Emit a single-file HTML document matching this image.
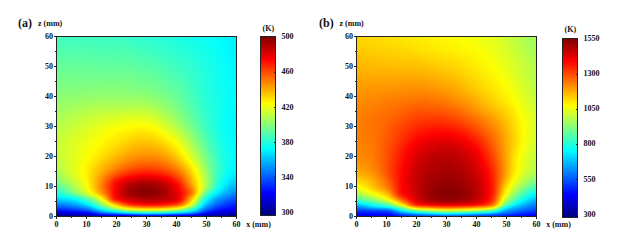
<!DOCTYPE html>
<html><head><meta charset="utf-8"><style>
html,body{margin:0;padding:0;background:#fff;}
body{width:617px;height:247px;position:relative;overflow:hidden;font-family:"Liberation Serif",serif;font-weight:bold;color:#111;}
.t{position:absolute;font-size:8px;line-height:8px;white-space:nowrap;}
.big{position:absolute;font-size:12px;line-height:12px;white-space:nowrap;}
.plot{position:absolute;top:36px;width:179px;height:179px;border:1px solid #222;}
.fld i{display:block;height:1px;width:179px;}
.tk{position:absolute;background:#222;}
.cbar{position:absolute;width:14px;border:1px solid #222;background:linear-gradient(180deg,#800000 0.0%,#ff0000 12.5%,#ff8000 25.0%,#ffff00 37.5%,#80ff80 50.0%,#00ffff 62.5%,#0080ff 75.0%,#0000ff 87.5%,#000080 100.0%);}
</style></head><body>
<div class="big" style="left:18px;top:17px">(a)</div>
<div class="t" style="left:38px;top:20px">z (mm)</div>
<div class="big" style="left:319px;top:17px">(b)</div>
<div class="t" style="left:339.5px;top:20px">z (mm)</div>

<div class="plot fld" style="left:56px">
<i style="background:linear-gradient(90deg,#42ffbd 0.5px,#3dffc2 60.5px,#29ffd6 103.5px,#06fff9 155.5px,#00faff 166.5px,#00efff 178.5px)"></i>
<i style="background:linear-gradient(90deg,#43ffbc 0.5px,#3dffc2 61.5px,#29ffd6 103.5px,#07fff8 155.5px,#00f9ff 167.5px,#00efff 178.5px)"></i>
<i style="background:linear-gradient(90deg,#44ffbb 0.5px,#3effc1 61.5px,#2affd5 103.5px,#07fff8 155.5px,#00fbff 166.5px,#00efff 178.5px)"></i>
<i style="background:linear-gradient(90deg,#44ffbb 0.5px,#3fffc0 62.5px,#2bffd4 103.5px,#07fff8 155.5px,#00fbff 166.5px,#00f0ff 178.5px)"></i>
<i style="background:linear-gradient(90deg,#45ffba 0.5px,#40ffbf 62.5px,#2cffd3 103.5px,#08fff7 155.5px,#00faff 167.5px,#00f0ff 178.5px)"></i>
<i style="background:linear-gradient(90deg,#47ffb8 0.5px,#41ffbe 63.5px,#2dffd2 103.5px,#08fff7 155.5px,#00fbff 167.5px,#00f0ff 178.5px)"></i>
<i style="background:linear-gradient(90deg,#48ffb7 0.5px,#42ffbd 63.5px,#2fffd0 102.5px,#09fff6 155.5px,#00fbff 167.5px,#00f0ff 178.5px)"></i>
<i style="background:linear-gradient(90deg,#49ffb6 0.5px,#43ffbc 64.5px,#30ffcf 102.5px,#09fff6 155.5px,#00fbff 167.5px,#00f1ff 178.5px)"></i>
<i style="background:linear-gradient(90deg,#4affb5 0.5px,#44ffbb 65.5px,#31ffce 102.5px,#0afff5 155.5px,#00fbff 168.5px,#00f1ff 178.5px)"></i>
<i style="background:linear-gradient(90deg,#4bffb4 0.5px,#46ffb9 65.5px,#33ffcc 102.5px,#0afff5 155.5px,#00fbff 168.5px,#00f1ff 178.5px)"></i>
<i style="background:linear-gradient(90deg,#4dffb2 0.5px,#47ffb8 66.5px,#34ffcb 102.5px,#0bfff4 155.5px,#00fcff 168.5px,#00f1ff 178.5px)"></i>
<i style="background:linear-gradient(90deg,#4effb1 0.5px,#48ffb7 66.5px,#35ffca 102.5px,#0cfff3 154.5px,#00fcff 168.5px,#00f2ff 178.5px)"></i>
<i style="background:linear-gradient(90deg,#4fffb0 0.5px,#49ffb6 67.5px,#37ffc8 102.5px,#0dfff2 154.5px,#00fbff 169.5px,#00f2ff 178.5px)"></i>
<i style="background:linear-gradient(90deg,#51ffae 0.5px,#4bffb4 67.5px,#39ffc6 101.5px,#0ffff0 152.5px,#00fcff 169.5px,#00f2ff 178.5px)"></i>
<i style="background:linear-gradient(90deg,#52ffad 0.5px,#4cffb3 68.5px,#3affc5 101.5px,#11ffee 151.5px,#00fcff 169.5px,#00f3ff 178.5px)"></i>
<i style="background:linear-gradient(90deg,#53ffac 0.5px,#4dffb2 68.5px,#3cffc3 101.5px,#13ffec 149.5px,#00fdff 169.5px,#00f3ff 178.5px)"></i>
<i style="background:linear-gradient(90deg,#55ffaa 0.5px,#4fffb0 69.5px,#3dffc2 101.5px,#16ffe9 147.5px,#00fcff 170.5px,#00f3ff 178.5px)"></i>
<i style="background:linear-gradient(90deg,#56ffa9 0.5px,#50ffaf 69.5px,#3effc1 101.5px,#18ffe7 145.5px,#00fcff 170.5px,#00f3ff 178.5px)"></i>
<i style="background:linear-gradient(90deg,#57ffa8 0.5px,#52ffad 69.5px,#40ffbf 101.5px,#1bffe4 143.5px,#00fcff 170.5px,#00f4ff 178.5px)"></i>
<i style="background:linear-gradient(90deg,#59ffa6 0.5px,#53ffac 70.5px,#41ffbe 101.5px,#1dffe2 142.5px,#00fdff 170.5px,#00f4ff 178.5px)"></i>
<i style="background:linear-gradient(90deg,#5affa5 0.5px,#54ffab 70.5px,#43ffbc 101.5px,#20ffdf 140.5px,#00fcff 171.5px,#00f4ff 178.5px)"></i>
<i style="background:linear-gradient(90deg,#5bffa4 0.5px,#56ffa9 70.5px,#45ffba 100.5px,#23ffdc 138.5px,#00fcff 171.5px,#00f4ff 178.5px)"></i>
<i style="background:linear-gradient(90deg,#5dffa2 0.5px,#58ffa7 70.5px,#47ffb8 100.5px,#25ffda 137.5px,#00fdff 171.5px,#00f5ff 178.5px)"></i>
<i style="background:linear-gradient(90deg,#5effa1 0.5px,#59ffa6 71.5px,#48ffb7 100.5px,#27ffd8 136.5px,#00fdff 171.5px,#00f5ff 178.5px)"></i>
<i style="background:linear-gradient(90deg,#5fffa0 0.5px,#5affa5 71.5px,#4affb5 100.5px,#29ffd6 135.5px,#00fcff 172.5px,#00f5ff 178.5px)"></i>
<i style="background:linear-gradient(90deg,#61ff9e 0.5px,#5cffa3 71.5px,#4bffb4 100.5px,#2bffd4 134.5px,#00fcff 172.5px,#00f5ff 178.5px)"></i>
<i style="background:linear-gradient(90deg,#62ff9d 0.5px,#5dffa2 71.5px,#4dffb2 100.5px,#2dffd2 133.5px,#00fcff 172.5px,#00f5ff 178.5px)"></i>
<i style="background:linear-gradient(90deg,#63ff9c 0.5px,#5fffa0 71.5px,#4effb1 100.5px,#2fffd0 132.5px,#00fdff 172.5px,#00f6ff 178.5px)"></i>
<i style="background:linear-gradient(90deg,#65ff9a 0.5px,#60ff9f 71.5px,#50ffaf 99.5px,#31ffce 131.5px,#00fdff 172.5px,#00f6ff 178.5px)"></i>
<i style="background:linear-gradient(90deg,#66ff99 0.5px,#62ff9d 71.5px,#52ffad 99.5px,#32ffcd 131.5px,#00fdff 172.5px,#00f6ff 178.5px)"></i>
<i style="background:linear-gradient(90deg,#67ff98 0.5px,#63ff9c 72.5px,#53ffac 100.5px,#34ffcb 130.5px,#00fcff 173.5px,#00f6ff 178.5px)"></i>
<i style="background:linear-gradient(90deg,#68ff97 0.5px,#65ff9a 72.5px,#55ffaa 99.5px,#37ffc8 129.5px,#00feff 172.5px,#00f7ff 178.5px)"></i>
<i style="background:linear-gradient(90deg,#6aff95 0.5px,#66ff99 72.5px,#57ffa8 99.5px,#38ffc7 129.5px,#00feff 172.5px,#00f7ff 178.5px)"></i>
<i style="background:linear-gradient(90deg,#6bff94 0.5px,#68ff97 72.5px,#58ffa7 99.5px,#3affc5 128.5px,#00feff 172.5px,#00f7ff 178.5px)"></i>
<i style="background:linear-gradient(90deg,#6cff93 0.5px,#69ff96 72.5px,#5affa5 99.5px,#3bffc4 128.5px,#01fffe 171.5px,#00f7ff 178.5px)"></i>
<i style="background:linear-gradient(90deg,#6dff92 0.5px,#6bff94 72.5px,#5bffa4 99.5px,#3dffc2 127.5px,#10ffef 160.5px,#00fcff 174.5px,#00f7ff 178.5px)"></i>
<i style="background:linear-gradient(90deg,#6fff90 0.5px,#6cff93 72.5px,#5dffa2 99.5px,#3effc1 127.5px,#11ffee 159.5px,#00fcff 174.5px,#00f8ff 178.5px)"></i>
<i style="background:linear-gradient(90deg,#70ff8f 0.5px,#6eff91 73.5px,#5effa1 99.5px,#3fffc0 127.5px,#12ffed 158.5px,#00fcff 174.5px,#00f8ff 178.5px)"></i>
<i style="background:linear-gradient(90deg,#71ff8e 0.5px,#6fff90 73.5px,#60ff9f 99.5px,#42ffbd 126.5px,#15ffea 156.5px,#00fcff 174.5px,#00f8ff 178.5px)"></i>
<i style="background:linear-gradient(90deg,#72ff8d 0.5px,#71ff8e 73.5px,#61ff9e 99.5px,#43ffbc 126.5px,#15ffea 156.5px,#00fdff 174.5px,#00f8ff 178.5px)"></i>
<i style="background:linear-gradient(90deg,#73ff8c 0.5px,#72ff8d 73.5px,#63ff9c 99.5px,#46ffb9 125.5px,#17ffe8 155.5px,#00fcff 175.5px,#00f8ff 178.5px)"></i>
<i style="background:linear-gradient(90deg,#75ff8a 0.5px,#74ff8b 73.5px,#64ff9b 99.5px,#47ffb8 125.5px,#18ffe7 154.5px,#00fcff 175.5px,#00f9ff 178.5px)"></i>
<i style="background:linear-gradient(90deg,#76ff89 0.5px,#75ff8a 73.5px,#66ff99 99.5px,#48ffb7 125.5px,#18ffe7 154.5px,#00fcff 175.5px,#00f9ff 178.5px)"></i>
<i style="background:linear-gradient(90deg,#77ff88 0.5px,#77ff88 72.5px,#68ff97 98.5px,#4affb5 124.5px,#1affe5 153.5px,#00fcff 175.5px,#00f9ff 178.5px)"></i>
<i style="background:linear-gradient(90deg,#78ff87 0.5px,#79ff86 71.5px,#6aff95 98.5px,#4cffb3 124.5px,#1bffe4 152.5px,#00fcff 175.5px,#00f9ff 178.5px)"></i>
<i style="background:linear-gradient(90deg,#79ff86 0.5px,#7bff84 70.5px,#6dff92 97.5px,#4dffb2 124.5px,#1cffe3 152.5px,#00fdff 175.5px,#00f9ff 178.5px)"></i>
<i style="background:linear-gradient(90deg,#7bff84 0.5px,#7cff83 69.5px,#6eff91 97.5px,#50ffaf 123.5px,#1dffe2 151.5px,#00fdff 175.5px,#00faff 178.5px)"></i>
<i style="background:linear-gradient(90deg,#7cff83 0.5px,#7eff81 68.5px,#71ff8e 96.5px,#51ffae 123.5px,#1effe1 151.5px,#00fdff 175.5px,#00faff 178.5px)"></i>
<i style="background:linear-gradient(90deg,#7dff82 0.5px,#80ff7f 66.5px,#74ff8b 95.5px,#54ffab 122.5px,#1fffe0 150.5px,#00fdff 175.5px,#00faff 178.5px)"></i>
<i style="background:linear-gradient(90deg,#7eff81 0.5px,#82ff7d 65.5px,#77ff88 94.5px,#55ffaa 122.5px,#20ffdf 150.5px,#00fcff 176.5px,#00faff 178.5px)"></i>
<i style="background:linear-gradient(90deg,#80ff7f 0.5px,#84ff7b 63.5px,#79ff86 93.5px,#58ffa7 121.5px,#20ffdf 150.5px,#00fcff 176.5px,#00faff 178.5px)"></i>
<i style="background:linear-gradient(90deg,#81ff7e 0.5px,#86ff79 61.5px,#7cff83 92.5px,#5bffa4 120.5px,#22ffdd 149.5px,#00fcff 176.5px,#00faff 178.5px)"></i>
<i style="background:linear-gradient(90deg,#82ff7d 0.5px,#88ff77 58.5px,#7fff80 91.5px,#5dffa2 120.5px,#22ffdd 149.5px,#00fcff 176.5px,#00faff 178.5px)"></i>
<i style="background:linear-gradient(90deg,#83ff7c 0.5px,#8aff75 56.5px,#81ff7e 90.5px,#60ff9f 119.5px,#23ffdc 149.5px,#00fcff 176.5px,#00faff 178.5px)"></i>
<i style="background:linear-gradient(90deg,#85ff7a 0.5px,#8bff74 54.5px,#84ff7b 89.5px,#63ff9c 118.5px,#23ffdc 149.5px,#00fcff 176.5px,#00faff 178.5px)"></i>
<i style="background:linear-gradient(90deg,#86ff79 0.5px,#8dff72 52.5px,#86ff79 89.5px,#65ff9a 118.5px,#23ffdc 149.5px,#00fcff 176.5px,#00fbff 178.5px)"></i>
<i style="background:linear-gradient(90deg,#87ff78 0.5px,#8fff70 51.5px,#89ff76 88.5px,#6aff95 116.5px,#24ffdb 149.5px,#00fdff 176.5px,#00fbff 178.5px)"></i>
<i style="background:linear-gradient(90deg,#89ff76 0.5px,#91ff6e 49.5px,#8cff73 88.5px,#6cff93 116.5px,#24ffdb 149.5px,#00fdff 176.5px,#00fbff 178.5px)"></i>
<i style="background:linear-gradient(90deg,#8aff75 0.5px,#94ff6b 48.5px,#8fff70 87.5px,#71ff8e 114.5px,#25ffda 149.5px,#00fdff 176.5px,#00fbff 178.5px)"></i>
<i style="background:linear-gradient(90deg,#8bff74 0.5px,#96ff69 47.5px,#91ff6e 87.5px,#74ff8b 113.5px,#49ffb6 132.5px,#1fffe0 153.5px,#00fdff 176.5px,#00fbff 178.5px)"></i>
<i style="background:linear-gradient(90deg,#8dff72 0.5px,#98ff67 46.5px,#94ff6b 87.5px,#78ff87 112.5px,#52ffad 129.5px,#24ffdb 150.5px,#00fdff 176.5px,#00fbff 178.5px)"></i>
<i style="background:linear-gradient(90deg,#8eff71 0.5px,#9aff65 46.5px,#97ff68 87.5px,#7cff83 111.5px,#56ffa9 128.5px,#26ffd9 149.5px,#00feff 175.5px,#00fbff 178.5px)"></i>
<i style="background:linear-gradient(90deg,#8fff70 0.5px,#9dff62 45.5px,#9bff64 86.5px,#81ff7e 109.5px,#5dffa2 126.5px,#2affd5 147.5px,#00feff 175.5px,#00fbff 178.5px)"></i>
<i style="background:linear-gradient(90deg,#91ff6e 0.5px,#9fff60 44.5px,#9eff61 86.5px,#85ff7a 108.5px,#61ff9e 125.5px,#2bffd4 147.5px,#00fdff 175.5px,#00faff 178.5px)"></i>
<i style="background:linear-gradient(90deg,#92ff6d 0.5px,#a2ff5d 44.5px,#a1ff5e 86.5px,#89ff76 107.5px,#66ff99 124.5px,#2dffd2 146.5px,#00fdff 175.5px,#00faff 178.5px)"></i>
<i style="background:linear-gradient(90deg,#94ff6b 0.5px,#a4ff5b 43.5px,#a5ff5a 85.5px,#91ff6e 104.5px,#6dff92 122.5px,#2effd1 146.5px,#00feff 174.5px,#00faff 178.5px)"></i>
<i style="background:linear-gradient(90deg,#95ff6a 0.5px,#a7ff58 43.5px,#a8ff57 85.5px,#95ff6a 103.5px,#6fff90 122.5px,#2effd1 146.5px,#00feff 174.5px,#00faff 178.5px)"></i>
<i style="background:linear-gradient(90deg,#97ff68 0.5px,#aaff55 43.5px,#acff53 85.5px,#98ff67 103.5px,#70ff8f 122.5px,#2fffd0 146.5px,#00feff 174.5px,#00faff 178.5px)"></i>
<i style="background:linear-gradient(90deg,#98ff67 0.5px,#acff53 42.5px,#b0ff4f 84.5px,#9eff61 101.5px,#75ff8a 121.5px,#32ffcd 145.5px,#00ffff 173.5px,#00faff 178.5px)"></i>
<i style="background:linear-gradient(90deg,#9aff65 0.5px,#afff50 42.5px,#b4ff4b 84.5px,#a3ff5c 100.5px,#77ff88 121.5px,#33ffcc 145.5px,#00ffff 173.5px,#00faff 178.5px)"></i>
<i style="background:linear-gradient(90deg,#9bff64 0.5px,#b2ff4d 42.5px,#b8ff47 83.5px,#aaff55 98.5px,#7cff83 120.5px,#34ffcb 145.5px,#01fffe 172.5px,#00faff 178.5px)"></i>
<i style="background:linear-gradient(90deg,#9dff62 0.5px,#b5ff4a 42.5px,#bcff43 83.5px,#aeff51 98.5px,#7eff81 120.5px,#34ffcb 145.5px,#03fffc 171.5px,#00faff 178.5px)"></i>
<i style="background:linear-gradient(90deg,#9eff61 0.5px,#b8ff47 42.5px,#c0ff3f 82.5px,#b3ff4c 97.5px,#83ff7c 119.5px,#35ffca 145.5px,#04fffb 170.5px,#00faff 178.5px)"></i>
<i style="background:linear-gradient(90deg,#a0ff5f 0.5px,#bbff44 42.5px,#c4ff3b 82.5px,#b9ff46 96.5px,#88ff77 118.5px,#36ffc9 145.5px,#05fffa 169.5px,#00faff 178.5px)"></i>
<i style="background:linear-gradient(90deg,#a1ff5e 0.5px,#beff41 42.5px,#c8ff37 81.5px,#beff41 95.5px,#8eff71 117.5px,#34ffcb 146.5px,#05fffa 169.5px,#00faff 178.5px)"></i>
<i style="background:linear-gradient(90deg,#a3ff5c 0.5px,#c1ff3e 42.5px,#cdff32 81.5px,#c3ff3c 95.5px,#90ff6f 117.5px,#35ffca 146.5px,#05fffa 169.5px,#00f9ff 178.5px)"></i>
<i style="background:linear-gradient(90deg,#a5ff5a 0.5px,#c4ff3b 42.5px,#d1ff2e 80.5px,#c8ff37 94.5px,#99ff66 115.5px,#36ffc9 146.5px,#06fff9 168.5px,#00fbff 176.5px,#00f9ff 178.5px)"></i>
<i style="background:linear-gradient(90deg,#a6ff59 0.5px,#c8ff37 42.5px,#d5ff2a 80.5px,#ccff33 94.5px,#9bff64 115.5px,#37ffc8 146.5px,#06fff9 168.5px,#00fbff 176.5px,#00f9ff 178.5px)"></i>
<i style="background:linear-gradient(90deg,#a8ff57 0.5px,#cbff34 43.5px,#d9ff26 80.5px,#d1ff2e 94.5px,#9eff61 115.5px,#38ffc7 146.5px,#08fff7 167.5px,#00fcff 175.5px,#00f9ff 178.5px)"></i>
<i style="background:linear-gradient(90deg,#a9ff56 0.5px,#ceff31 43.5px,#ddff22 79.5px,#d6ff29 93.5px,#aaff55 112.5px,#36ffc9 147.5px,#08fff7 167.5px,#00fcff 175.5px,#00f9ff 178.5px)"></i>
<i style="background:linear-gradient(90deg,#abff54 0.5px,#d2ff2d 44.5px,#e1ff1e 79.5px,#dbff24 93.5px,#b0ff4f 111.5px,#34ffcb 148.5px,#07fff8 167.5px,#00fbff 175.5px,#00f9ff 178.5px)"></i>
<i style="background:linear-gradient(90deg,#acff53 0.5px,#d5ff2a 45.5px,#e6ff19 79.5px,#dfff20 93.5px,#b3ff4c 111.5px,#35ffca 148.5px,#07fff8 167.5px,#00fbff 175.5px,#00f9ff 178.5px)"></i>
<i style="background:linear-gradient(90deg,#adff52 0.5px,#d9ff26 46.5px,#eaff15 80.5px,#e3ff1c 93.5px,#baff45 110.5px,#73ff8c 130.5px,#2affd5 152.5px,#04fffb 169.5px,#00f9ff 178.5px)"></i>
<i style="background:linear-gradient(90deg,#afff50 0.5px,#dcff23 47.5px,#eeff11 80.5px,#e7ff18 93.5px,#bdff42 110.5px,#76ff89 130.5px,#2bffd4 152.5px,#04fffb 169.5px,#00f9ff 178.5px)"></i>
<i style="background:linear-gradient(90deg,#b0ff4f 0.5px,#e1ff1e 49.5px,#f2ff0d 81.5px,#ebff14 93.5px,#c4ff3b 109.5px,#80ff7f 128.5px,#32ffcd 150.5px,#07fff8 167.5px,#00fbff 175.5px,#00f9ff 178.5px)"></i>
<i style="background:linear-gradient(90deg,#b2ff4d 0.5px,#e6ff19 52.5px,#f6ff09 83.5px,#ecff13 95.5px,#b8ff47 114.5px,#39ffc6 148.5px,#0bfff4 165.5px,#00fcff 174.5px,#00f9ff 178.5px)"></i>
<i style="background:linear-gradient(90deg,#b3ff4c 0.5px,#ebff14 54.5px,#faff05 84.5px,#f0ff0f 95.5px,#bfff40 113.5px,#37ffc8 149.5px,#09fff6 166.5px,#00fcff 174.5px,#00f8ff 178.5px)"></i>
<i style="background:linear-gradient(90deg,#b4ff4b 0.5px,#efff10 56.5px,#feff01 85.5px,#f2ff0d 96.5px,#bbff44 115.5px,#38ffc7 149.5px,#0bfff4 165.5px,#00fcff 174.5px,#00f8ff 178.5px)"></i>
<i style="background:linear-gradient(90deg,#b6ff49 0.5px,#f5ff0a 59.5px,#fffd00 81.5px,#fbff04 93.5px,#d6ff29 108.5px,#94ff6b 126.5px,#39ffc6 149.5px,#0bfff4 165.5px,#00fdff 173.5px,#00f8ff 178.5px)"></i>
<i style="background:linear-gradient(90deg,#b7ff48 0.5px,#f9ff06 61.5px,#fffb00 76.5px,#fffc00 91.5px,#f6ff09 98.5px,#bcff43 117.5px,#3affc5 149.5px,#0bfff4 165.5px,#00fcff 174.5px,#00f8ff 178.5px)"></i>
<i style="background:linear-gradient(90deg,#b8ff47 0.5px,#feff01 64.5px,#fff500 87.5px,#fcff03 97.5px,#c7ff38 115.5px,#37ffc8 150.5px,#0cfff3 165.5px,#00fcff 174.5px,#00f8ff 178.5px)"></i>
<i style="background:linear-gradient(90deg,#b9ff46 0.5px,#ffff00 62.5px,#fff100 86.5px,#feff01 98.5px,#c7ff38 116.5px,#38ffc7 150.5px,#0cfff3 165.5px,#00fcff 174.5px,#00f9ff 178.5px)"></i>
<i style="background:linear-gradient(90deg,#bbff44 0.5px,#fffe00 60.5px,#ffee00 85.5px,#fff800 96.5px,#faff05 101.5px,#c4ff3b 118.5px,#3affc5 150.5px,#0cfff3 165.5px,#00fcff 174.5px,#00f9ff 178.5px)"></i>
<i style="background:linear-gradient(90deg,#bcff43 0.5px,#fffe00 58.5px,#ffea00 84.5px,#fff300 95.5px,#fcff03 102.5px,#c4ff3b 119.5px,#3bffc4 150.5px,#0dfff2 165.5px,#00fcff 174.5px,#00f9ff 178.5px)"></i>
<i style="background:linear-gradient(90deg,#bdff42 0.5px,#fffc00 57.5px,#ffe700 83.5px,#ffef00 95.5px,#fdff02 103.5px,#c8ff37 119.5px,#38ffc7 151.5px,#0dfff2 165.5px,#00fdff 174.5px,#00f9ff 178.5px)"></i>
<i style="background:linear-gradient(90deg,#beff41 0.5px,#fffd00 55.5px,#ffe400 82.5px,#ffe900 94.5px,#fcff03 105.5px,#c8ff37 120.5px,#3affc5 151.5px,#0efff1 165.5px,#00fdff 174.5px,#00f9ff 178.5px)"></i>
<i style="background:linear-gradient(90deg,#bfff40 0.5px,#fffd00 53.5px,#ffe100 81.5px,#ffe400 93.5px,#fdff02 106.5px,#c8ff37 121.5px,#3bffc4 151.5px,#0efff1 165.5px,#00fdff 174.5px,#00f9ff 178.5px)"></i>
<i style="background:linear-gradient(90deg,#c0ff3f 0.5px,#fffc00 52.5px,#ffde00 81.5px,#ffe100 93.5px,#fcff03 108.5px,#c8ff37 122.5px,#3cffc3 151.5px,#0ffff0 165.5px,#00fdff 174.5px,#00f9ff 178.5px)"></i>
<i style="background:linear-gradient(90deg,#c1ff3e 0.5px,#fffd00 50.5px,#ffda00 81.5px,#ffdd00 93.5px,#fffb00 107.5px,#f4ff0b 112.5px,#baff45 126.5px,#42ffbd 150.5px,#12ffed 164.5px,#00fdff 174.5px,#00f9ff 178.5px)"></i>
<i style="background:linear-gradient(90deg,#c2ff3d 0.5px,#fffc00 49.5px,#ffd800 80.5px,#ffd900 93.5px,#fff600 107.5px,#fcff03 111.5px,#c8ff37 124.5px,#43ffbc 150.5px,#15ffea 163.5px,#00feff 174.5px,#00f9ff 178.5px)"></i>
<i style="background:linear-gradient(90deg,#c3ff3c 0.5px,#fffd00 47.5px,#ffd400 80.5px,#ffd600 93.5px,#fff200 107.5px,#fdff02 112.5px,#c7ff38 125.5px,#45ffba 150.5px,#16ffe9 163.5px,#00feff 174.5px,#00faff 178.5px)"></i>
<i style="background:linear-gradient(90deg,#c3ff3c 0.5px,#fdff02 43.5px,#ffd100 80.5px,#ffd200 93.5px,#ffed00 107.5px,#fbff04 114.5px,#c1ff3e 127.5px,#47ffb8 150.5px,#17ffe8 163.5px,#00feff 174.5px,#00faff 178.5px)"></i>
<i style="background:linear-gradient(90deg,#c4ff3b 0.5px,#faff05 40.5px,#fff600 49.5px,#ffce00 80.5px,#ffce00 93.5px,#ffe900 107.5px,#fcff03 115.5px,#c0ff3f 128.5px,#48ffb7 150.5px,#18ffe7 163.5px,#00ffff 174.5px,#00faff 178.5px)"></i>
<i style="background:linear-gradient(90deg,#c4ff3b 0.5px,#f8ff07 38.5px,#fffb00 45.5px,#ffcb00 79.5px,#ffca00 92.5px,#ffdf00 105.5px,#fdff02 116.5px,#beff41 129.5px,#4affb5 150.5px,#19ffe6 163.5px,#00ffff 174.5px,#00faff 178.5px)"></i>
<i style="background:linear-gradient(90deg,#c5ff3a 0.5px,#f8ff07 37.5px,#fffa00 44.5px,#ffc800 79.5px,#ffc600 92.5px,#ffdb00 105.5px,#fdff02 117.5px,#bdff42 130.5px,#4cffb3 150.5px,#19ffe6 163.5px,#00ffff 174.5px,#00faff 178.5px)"></i>
<i style="background:linear-gradient(90deg,#c5ff3a 0.5px,#f6ff09 35.5px,#fffa00 43.5px,#ffc500 79.5px,#ffc300 93.5px,#ffd900 106.5px,#fdff02 118.5px,#bbff44 131.5px,#4effb1 150.5px,#1affe5 163.5px,#00ffff 174.5px,#00faff 178.5px)"></i>
<i style="background:linear-gradient(90deg,#c6ff39 0.5px,#f6ff09 34.5px,#fffa00 42.5px,#ffc200 78.5px,#ffbf00 92.5px,#ffd200 105.5px,#fff800 117.5px,#f9ff06 120.5px,#a6ff59 135.5px,#4bffb4 151.5px,#18ffe7 164.5px,#00feff 175.5px,#00faff 178.5px)"></i>
<i style="background:linear-gradient(90deg,#c6ff39 0.5px,#f5ff0a 33.5px,#fffb00 41.5px,#ffbf00 78.5px,#ffbb00 92.5px,#ffce00 105.5px,#fff400 117.5px,#fdff02 120.5px,#b0ff4f 134.5px,#4dffb2 151.5px,#19ffe6 164.5px,#00feff 175.5px,#00fbff 178.5px)"></i>
<i style="background:linear-gradient(90deg,#c6ff39 0.5px,#f4ff0b 32.5px,#fffb00 40.5px,#ffbd00 77.5px,#ffb700 91.5px,#ffc800 104.5px,#ffec00 116.5px,#fdff02 121.5px,#a0ff5f 137.5px,#4affb5 152.5px,#1affe5 164.5px,#00ffff 175.5px,#00fbff 178.5px)"></i>
<i style="background:linear-gradient(90deg,#c6ff39 0.5px,#f4ff0b 31.5px,#fffb00 39.5px,#ffb900 77.5px,#ffb300 91.5px,#ffc300 104.5px,#ffe700 116.5px,#fcff03 122.5px,#90ff6f 140.5px,#42ffbd 154.5px,#14ffeb 166.5px,#00fdff 176.5px,#00fbff 178.5px)"></i>
<i style="background:linear-gradient(90deg,#c7ff38 0.5px,#f3ff0c 30.5px,#fffc00 38.5px,#ffb700 76.5px,#ffaf00 91.5px,#ffbf00 104.5px,#ffe300 116.5px,#fffe00 122.5px,#a6ff59 137.5px,#4dffb2 152.5px,#1bffe4 164.5px,#00ffff 175.5px,#00fbff 178.5px)"></i>
<i style="background:linear-gradient(90deg,#c7ff38 0.5px,#f2ff0d 29.5px,#fffc00 37.5px,#ffb400 76.5px,#ffab00 91.5px,#ffbb00 104.5px,#ffdb00 115.5px,#ffff00 123.5px,#4fffb0 152.5px,#1cffe3 164.5px,#00ffff 175.5px,#00fbff 178.5px)"></i>
<i style="background:linear-gradient(90deg,#c7ff38 0.5px,#f1ff0e 28.5px,#fffd00 36.5px,#ffb100 75.5px,#ffa700 90.5px,#ffb400 103.5px,#ffd200 114.5px,#fdff02 124.5px,#51ffae 152.5px,#1dffe2 164.5px,#00ffff 175.5px,#00fbff 178.5px)"></i>
<i style="background:linear-gradient(90deg,#c7ff38 0.5px,#f1ff0e 27.5px,#fffc00 36.5px,#ffaf00 74.5px,#ffa300 89.5px,#ffae00 102.5px,#ffca00 113.5px,#fffd00 124.5px,#b6ff49 136.5px,#53ffac 152.5px,#1effe1 164.5px,#00ffff 175.5px,#00fbff 178.5px)"></i>
<i style="background:linear-gradient(90deg,#c7ff38 0.5px,#f0ff0f 26.5px,#fffc00 35.5px,#ffad00 73.5px,#ff9f00 89.5px,#ffaa00 102.5px,#ffc600 113.5px,#fff900 124.5px,#faff05 126.5px,#55ffaa 152.5px,#1effe1 164.5px,#01fffe 175.5px,#00fbff 178.5px)"></i>
<i style="background:linear-gradient(90deg,#c6ff39 0.5px,#edff12 24.5px,#fffd00 34.5px,#ffa900 73.5px,#ff9b00 88.5px,#ffa400 101.5px,#ffbe00 112.5px,#ffef00 123.5px,#feff01 126.5px,#57ffa8 152.5px,#1fffe0 164.5px,#01fffe 175.5px,#00fbff 178.5px)"></i>
<i style="background:linear-gradient(90deg,#c6ff39 0.5px,#ecff13 23.5px,#fffc00 34.5px,#ffa700 72.5px,#ff9700 88.5px,#ff9f00 101.5px,#ffb900 112.5px,#ffeb00 123.5px,#fcff03 127.5px,#59ffa6 152.5px,#20ffdf 164.5px,#01fffe 175.5px,#00fbff 178.5px)"></i>
<i style="background:linear-gradient(90deg,#c6ff39 0.5px,#eaff15 22.5px,#fffc00 33.5px,#ffa400 71.5px,#ff9300 87.5px,#ff9900 100.5px,#ffb100 111.5px,#ffe100 122.5px,#fffe00 127.5px,#55ffaa 153.5px,#20ffdf 164.5px,#01fffe 175.5px,#00fbff 178.5px)"></i>
<i style="background:linear-gradient(90deg,#c5ff3a 0.5px,#e9ff16 21.5px,#fffd00 32.5px,#ffa000 71.5px,#ff8e00 87.5px,#ff9400 100.5px,#ffac00 111.5px,#ffdc00 122.5px,#feff01 128.5px,#57ffa8 153.5px,#21ffde 164.5px,#01fffe 175.5px,#00fbff 178.5px)"></i>
<i style="background:linear-gradient(90deg,#c5ff3a 0.5px,#e8ff17 20.5px,#fffc00 32.5px,#ff9e00 70.5px,#ff8a00 86.5px,#ff8e00 99.5px,#ffa400 110.5px,#ffcd00 120.5px,#fcff03 129.5px,#59ffa6 153.5px,#22ffdd 164.5px,#01fffe 175.5px,#00fbff 178.5px)"></i>
<i style="background:linear-gradient(90deg,#c4ff3b 0.5px,#e8ff17 20.5px,#fffd00 31.5px,#ff9b00 69.5px,#ff8500 85.5px,#ff8800 98.5px,#ff9c00 109.5px,#ffc300 119.5px,#fffd00 129.5px,#55ffaa 154.5px,#1effe1 165.5px,#01fffe 175.5px,#00fbff 178.5px)"></i>
<i style="background:linear-gradient(90deg,#c3ff3c 0.5px,#e6ff19 19.5px,#fffe00 30.5px,#ff9700 69.5px,#ff8000 85.5px,#ff8300 98.5px,#ff9700 109.5px,#ffbe00 119.5px,#ffff00 130.5px,#5dffa2 153.5px,#23ffdc 164.5px,#03fffc 174.5px,#00fbff 178.5px)"></i>
<i style="background:linear-gradient(90deg,#c3ff3c 0.5px,#e7ff18 19.5px,#fffc00 30.5px,#ff9400 68.5px,#ff7b00 85.5px,#ff7d00 98.5px,#ff9100 109.5px,#ffbd00 120.5px,#fdff02 131.5px,#5fffa0 153.5px,#23ffdc 164.5px,#03fffc 174.5px,#00fbff 178.5px)"></i>
<i style="background:linear-gradient(90deg,#c1ff3e 0.5px,#e7ff18 19.5px,#fffd00 29.5px,#ff8f00 68.5px,#ff7600 84.5px,#ff7700 97.5px,#ff8900 108.5px,#ffae00 118.5px,#ffee00 129.5px,#fbff04 132.5px,#60ff9f 153.5px,#28ffd7 163.5px,#05fffa 173.5px,#00faff 178.5px)"></i>
<i style="background:linear-gradient(90deg,#c0ff3f 0.5px,#e5ff1a 18.5px,#fffc00 29.5px,#ff8c00 67.5px,#ff7100 84.5px,#ff7100 97.5px,#ff8300 108.5px,#ffa800 118.5px,#ffe200 128.5px,#fffe00 132.5px,#5cffa3 154.5px,#24ffdb 164.5px,#02fffd 174.5px,#00faff 178.5px)"></i>
<i style="background:linear-gradient(90deg,#bfff40 0.5px,#e6ff19 18.5px,#fffd00 28.5px,#ff8700 67.5px,#ff6c00 83.5px,#ff6a00 96.5px,#ff7d00 108.5px,#ffa700 119.5px,#ffe300 129.5px,#feff01 133.5px,#64ff9b 153.5px,#29ffd6 163.5px,#05fffa 173.5px,#00faff 178.5px)"></i>
<i style="background:linear-gradient(90deg,#bdff42 0.5px,#e6ff19 18.5px,#fffc00 28.5px,#ffa800 54.5px,#ff7800 71.5px,#ff6300 86.5px,#ff6700 99.5px,#ff7d00 110.5px,#ffab00 121.5px,#fff300 132.5px,#fcff03 134.5px,#66ff99 153.5px,#29ffd6 163.5px,#04fffb 173.5px,#00f9ff 178.5px)"></i>
<i style="background:linear-gradient(90deg,#bbff44 0.5px,#e6ff19 18.5px,#fffe00 27.5px,#ffaf00 51.5px,#ff7900 68.5px,#ff5e00 84.5px,#ff5f00 97.5px,#ff7100 108.5px,#ff9b00 119.5px,#ffd700 129.5px,#fffc00 134.5px,#c8ff37 141.5px,#60ff9f 154.5px,#2affd5 163.5px,#04fffb 173.5px,#00f9ff 178.5px)"></i>
<i style="background:linear-gradient(90deg,#b9ff46 0.5px,#e6ff19 18.5px,#fffd00 27.5px,#ffaa00 51.5px,#ff7500 67.5px,#ff5800 83.5px,#ff5600 95.5px,#ff6800 107.5px,#ff8b00 117.5px,#ffc300 127.5px,#fffe00 135.5px,#69ff96 153.5px,#2fffd0 162.5px,#06fff9 172.5px,#00f9ff 177.5px,#00f8ff 178.5px)"></i>
<i style="background:linear-gradient(90deg,#b7ff48 0.5px,#e9ff16 19.5px,#fffc00 27.5px,#ffaa00 50.5px,#ff7200 66.5px,#ff5300 81.5px,#ff4e00 93.5px,#ff5f00 106.5px,#ff8000 116.5px,#ffb600 126.5px,#fdff02 136.5px,#72ff8d 152.5px,#2fffd0 162.5px,#06fff9 172.5px,#00fbff 176.5px,#00f7ff 178.5px)"></i>
<i style="background:linear-gradient(90deg,#b5ff4a 0.5px,#e9ff16 19.5px,#fffe00 26.5px,#ffaa00 49.5px,#ff7100 64.5px,#ff4f00 79.5px,#ff4600 91.5px,#ff5300 104.5px,#ff7100 114.5px,#ffa300 124.5px,#fff300 135.5px,#f9ff06 137.5px,#74ff8b 152.5px,#35ffca 161.5px,#08fff7 171.5px,#00fcff 175.5px,#00f6ff 178.5px)"></i>
<i style="background:linear-gradient(90deg,#b3ff4c 0.5px,#f0ff0f 21.5px,#fffe00 26.5px,#ffaa00 48.5px,#ff6e00 63.5px,#ff4b00 77.5px,#ff3e00 89.5px,#ff4900 102.5px,#ff6200 112.5px,#ff9100 122.5px,#ffd600 132.5px,#ffff00 137.5px,#7eff81 151.5px,#35ffca 161.5px,#0bfff4 170.5px,#00feff 174.5px,#00f5ff 178.5px)"></i>
<i style="background:linear-gradient(90deg,#b0ff4f 0.5px,#f7ff08 23.5px,#fffa00 27.5px,#ffa500 48.5px,#ff6700 63.5px,#ff4500 76.5px,#ff3600 89.5px,#ff4100 102.5px,#ff5b00 112.5px,#ff8a00 122.5px,#ffd000 132.5px,#fffb00 137.5px,#f1ff0e 139.5px,#80ff7f 151.5px,#36ffc9 161.5px,#0bfff4 170.5px,#00fdff 174.5px,#00f4ff 178.5px)"></i>
<i style="background:linear-gradient(90deg,#adff52 0.5px,#fffd00 26.5px,#ffab00 46.5px,#ff6700 61.5px,#ff4100 74.5px,#ff2e00 87.5px,#ff3500 99.5px,#ff4c00 110.5px,#ff7d00 121.5px,#ffc200 131.5px,#ffff00 138.5px,#82ff7d 151.5px,#36ffc9 161.5px,#0afff5 170.5px,#00fcff 174.5px,#00f3ff 178.5px)"></i>
<i style="background:linear-gradient(90deg,#abff54 0.5px,#fffd00 26.5px,#ffab00 45.5px,#ff5f00 61.5px,#ff3800 74.5px,#ff2600 87.5px,#ff2c00 99.5px,#ff4400 110.5px,#ff7000 120.5px,#ffad00 129.5px,#fffb00 138.5px,#e5ff1a 141.5px,#7bff84 152.5px,#36ffc9 161.5px,#09fff6 170.5px,#00faff 174.5px,#00f2ff 178.5px)"></i>
<i style="background:linear-gradient(90deg,#a8ff57 0.5px,#fffd00 26.5px,#ffb100 43.5px,#ff5b00 60.5px,#ff3100 73.5px,#ff1c00 87.5px,#ff2300 99.5px,#ff3c00 110.5px,#ff6900 120.5px,#ffa700 129.5px,#fdff02 139.5px,#7dff82 152.5px,#35ffca 161.5px,#07fff8 170.5px,#00fcff 173.5px,#00f0ff 178.5px)"></i>
<i style="background:linear-gradient(90deg,#a4ff5b 0.5px,#fffe00 26.5px,#ffb800 41.5px,#ff5300 60.5px,#ff2a00 72.5px,#ff1300 86.5px,#ff1700 97.5px,#ff2c00 108.5px,#ff5600 118.5px,#ff8900 126.5px,#ffe900 137.5px,#fffd00 139.5px,#6dff92 154.5px,#2effd1 162.5px,#02fffd 171.5px,#00eeff 178.5px)"></i>
<i style="background:linear-gradient(90deg,#a1ff5e 0.5px,#ffff00 26.5px,#ffba00 40.5px,#ff4e00 59.5px,#ff2200 71.5px,#ff0900 85.5px,#ff0b00 96.5px,#ff2200 108.5px,#ff4d00 118.5px,#ff8300 126.5px,#fff000 138.5px,#faff05 140.5px,#6eff91 154.5px,#2dffd2 162.5px,#00ffff 171.5px,#00ebff 178.5px)"></i>
<i style="background:linear-gradient(90deg,#9dff62 0.5px,#feff01 26.5px,#ffc900 37.5px,#ff4400 59.5px,#ff1700 71.5px,#fe0000 83.5px,#fc0000 93.5px,#ff0700 101.5px,#ff1e00 110.5px,#ff5000 120.5px,#ff8e00 128.5px,#fdff02 140.5px,#53ffac 157.5px,#1fffe0 164.5px,#01fffe 170.5px,#00e8ff 178.5px)"></i>
<i style="background:linear-gradient(90deg,#99ff66 0.5px,#fffd00 27.5px,#ffc100 38.5px,#ff3f00 58.5px,#ff1100 69.5px,#fc0000 77.5px,#ef0000 89.5px,#fa0000 101.5px,#ff0600 106.5px,#ff2b00 115.5px,#ff5d00 123.5px,#ffcb00 135.5px,#fffe00 140.5px,#41ffbe 159.5px,#17ffe8 165.5px,#00fdff 170.5px,#00e5ff 178.5px)"></i>
<i style="background:linear-gradient(90deg,#94ff6b 0.5px,#ffff00 27.5px,#ffc600 37.5px,#ff3500 58.5px,#ff0600 69.5px,#f90000 73.5px,#e40000 86.5px,#e90000 97.5px,#ff0200 108.5px,#ff2c00 117.5px,#ff5d00 124.5px,#fffb00 140.5px,#e4ff1b 143.5px,#40ffbf 159.5px,#14ffeb 165.5px,#00feff 169.5px,#00e2ff 177.5px,#00e1ff 178.5px)"></i>
<i style="background:linear-gradient(90deg,#90ff6f 0.5px,#fdff02 27.5px,#ffd200 35.5px,#ff2c00 58.5px,#ff0200 67.5px,#df0000 80.5px,#d80000 91.5px,#ea0000 104.5px,#ff0300 111.5px,#ff3600 120.5px,#ff7200 127.5px,#fff800 140.5px,#fcff03 141.5px,#35ffca 160.5px,#0bfff4 166.5px,#00ffff 168.5px,#00e0ff 176.5px,#00ddff 178.5px)"></i>
<i style="background:linear-gradient(90deg,#8bff74 0.5px,#fffd00 28.5px,#ffbc00 38.5px,#ff2a00 57.5px,#ff0000 65.5px,#de0000 75.5px,#cd0000 87.5px,#d40000 98.5px,#ec0000 108.5px,#ff0300 113.5px,#ff3500 121.5px,#ff8100 129.5px,#feff01 141.5px,#33ffcc 160.5px,#08fff7 166.5px,#00f7ff 169.5px,#00daff 177.5px,#00d8ff 178.5px)"></i>
<i style="background:linear-gradient(90deg,#85ff7a 0.5px,#faff05 27.5px,#fffa00 29.5px,#ffb400 39.5px,#ff2200 57.5px,#ff0000 63.5px,#d90000 73.5px,#c30000 86.5px,#c70000 96.5px,#df0000 107.5px,#ff0000 114.5px,#ff2d00 121.5px,#ff7b00 129.5px,#fffd00 141.5px,#31ffce 160.5px,#05fffa 166.5px,#00f8ff 168.5px,#00d8ff 176.5px,#00d4ff 178.5px)"></i>
<i style="background:linear-gradient(90deg,#7fff80 0.5px,#f2ff0d 26.5px,#fffb00 29.5px,#ffb300 39.5px,#ff1b00 57.5px,#fc0000 62.5px,#d50000 71.5px,#bb0000 84.5px,#bb0000 94.5px,#d30000 106.5px,#f60000 114.5px,#ff0300 116.5px,#ff2d00 122.5px,#ff8c00 131.5px,#fffb00 141.5px,#e2ff1d 144.5px,#2effd1 160.5px,#07fff8 165.5px,#00faff 167.5px,#00d6ff 175.5px,#00d0ff 178.5px)"></i>
<i style="background:linear-gradient(90deg,#77ff88 0.5px,#eaff15 25.5px,#fffd00 29.5px,#ffb200 39.5px,#ff1500 57.5px,#ff0100 60.5px,#cf0000 70.5px,#b40000 82.5px,#b00000 92.5px,#c80000 105.5px,#e90000 113.5px,#ff0100 117.5px,#ff2f00 123.5px,#ffd500 138.5px,#fff800 141.5px,#faff05 142.5px,#2bffd4 160.5px,#04fffb 165.5px,#00f1ff 168.5px,#00cfff 176.5px,#00cbff 178.5px)"></i>
<i style="background:linear-gradient(90deg,#6fff90 0.5px,#e2ff1d 24.5px,#ffff00 29.5px,#ffb100 39.5px,#ff0f00 57.5px,#ff0100 59.5px,#cb0000 69.5px,#b00000 79.5px,#a60000 90.5px,#b60000 101.5px,#d20000 110.5px,#ff0000 118.5px,#ff2700 123.5px,#ffae00 135.5px,#fdff02 142.5px,#33ffcc 159.5px,#07fff8 164.5px,#00ffff 165.5px,#00d1ff 174.5px,#00c6ff 178.5px)"></i>
<i style="background:linear-gradient(90deg,#66ff99 0.5px,#d3ff2c 22.5px,#fdff02 29.5px,#ffcb00 36.5px,#ff4a00 50.5px,#ff0200 58.5px,#c30000 69.5px,#aa0000 78.5px,#9e0000 89.5px,#aa0000 99.5px,#c70000 109.5px,#f80000 118.5px,#fe0000 119.5px,#ff2a00 124.5px,#ffd900 139.5px,#ffff00 142.5px,#30ffcf 159.5px,#03fffc 164.5px,#00ccff 174.5px,#00c1ff 178.5px)"></i>
<i style="background:linear-gradient(90deg,#5dffa2 0.5px,#beff41 19.5px,#fffc00 30.5px,#ff9500 42.5px,#ff0600 57.5px,#f60000 59.5px,#bd0000 69.5px,#a60000 77.5px,#980000 88.5px,#a20000 98.5px,#c10000 109.5px,#f20000 118.5px,#ff0000 120.5px,#ff3900 126.5px,#ffd500 139.5px,#fffd00 142.5px,#2cffd3 159.5px,#00feff 164.5px,#00cbff 173.5px,#00bbff 178.5px)"></i>
<i style="background:linear-gradient(90deg,#55ffaa 0.5px,#aeff51 17.5px,#ffff00 30.5px,#ff9500 42.5px,#ff0400 57.5px,#e60000 61.5px,#b50000 70.5px,#9b0000 80.5px,#930000 90.5px,#a40000 101.5px,#c10000 110.5px,#f40000 119.5px,#ff0400 121.5px,#ff4a00 128.5px,#ffd200 139.5px,#fffb00 142.5px,#beff41 147.5px,#28ffd7 159.5px,#02fffd 163.5px,#00c5ff 173.5px,#00b5ff 178.5px)"></i>
<i style="background:linear-gradient(90deg,#4cffb3 0.5px,#a2ff5d 16.5px,#f5ff0a 29.5px,#fffa00 31.5px,#ff7000 46.5px,#ff0300 57.5px,#b60000 69.5px,#9f0000 76.5px,#8f0000 88.5px,#9a0000 98.5px,#b90000 109.5px,#ea0000 118.5px,#ff0000 121.5px,#ff4500 128.5px,#ffb200 137.5px,#fffb00 142.5px,#d7ff28 145.5px,#2effd1 158.5px,#05fffa 162.5px,#00f4ff 164.5px,#00bfff 173.5px,#00afff 178.5px)"></i>
<i style="background:linear-gradient(90deg,#45ffba 0.5px,#96ff69 15.5px,#f1ff0e 29.5px,#fffd00 31.5px,#ff7200 46.5px,#ff0300 57.5px,#b30000 69.5px,#9c0000 76.5px,#8c0000 88.5px,#950000 97.5px,#b20000 108.5px,#e10000 117.5px,#fc0000 121.5px,#ff2000 125.5px,#ff8500 134.5px,#ffdc00 140.5px,#fffc00 142.5px,#8bff74 150.5px,#1cffe3 159.5px,#00feff 162.5px,#00c3ff 171.5px,#00a9ff 178.5px)"></i>
<i style="background:linear-gradient(90deg,#3dffc2 0.5px,#8fff70 15.5px,#edff12 29.5px,#fdff02 31.5px,#ffb000 40.5px,#ff3f00 51.5px,#ff0300 57.5px,#b60000 68.5px,#9e0000 74.5px,#8a0000 87.5px,#910000 96.5px,#b00000 108.5px,#df0000 117.5px,#ff0200 122.5px,#ff4500 129.5px,#ff9a00 136.5px,#fffe00 142.5px,#9cff63 148.5px,#2affd5 157.5px,#01fffe 161.5px,#00c3ff 170.5px,#00a4ff 177.5px,#00a2ff 178.5px)"></i>
<i style="background:linear-gradient(90deg,#35ffca 0.5px,#82ff7d 14.5px,#e0ff1f 28.5px,#fffe00 32.5px,#ff7900 46.5px,#ff0300 57.5px,#b40000 68.5px,#9c0000 74.5px,#880000 87.5px,#8f0000 96.5px,#ae0000 108.5px,#e30000 118.5px,#ff0000 122.5px,#ff3f00 129.5px,#ff8600 135.5px,#ffc900 139.5px,#fbff04 142.5px,#9fff60 147.5px,#4effb1 153.5px,#02fffd 160.5px,#00c2ff 169.5px,#009eff 177.5px,#009bff 178.5px)"></i>
<i style="background:linear-gradient(90deg,#2dffd2 0.5px,#73ff8c 13.5px,#d2ff2d 27.5px,#faff05 32.5px,#fff200 34.5px,#ff7e00 46.5px,#ff0c00 56.5px,#ff0300 57.5px,#b30000 68.5px,#9a0000 74.5px,#860000 87.5px,#8d0000 96.5px,#ac0000 108.5px,#e10000 118.5px,#fc0000 122.5px,#ff2800 127.5px,#ff7400 134.5px,#ffa300 137.5px,#fff300 141.5px,#f6ff09 142.5px,#93ff6c 147.5px,#5affa5 151.5px,#0bfff4 158.5px,#02fffd 159.5px,#00c0ff 168.5px,#009aff 176.5px,#0094ff 178.5px)"></i>
<i style="background:linear-gradient(90deg,#24ffdb 0.5px,#69ff96 13.5px,#c2ff3d 26.5px,#fbff04 33.5px,#ffde00 37.5px,#ff7800 47.5px,#ff0c00 56.5px,#ff0200 57.5px,#b20000 68.5px,#9a0000 74.5px,#860000 87.5px,#8c0000 96.5px,#ab0000 108.5px,#df0000 118.5px,#ff0300 123.5px,#ff4300 130.5px,#ff8000 135.5px,#ffb700 138.5px,#fff800 141.5px,#efff10 142.5px,#98ff67 146.5px,#67ff98 149.5px,#14ffeb 156.5px,#01fffe 158.5px,#00c4ff 166.5px,#0096ff 175.5px,#008dff 178.5px)"></i>
<i style="background:linear-gradient(90deg,#1affe5 0.5px,#55ffaa 12.5px,#a5ff5a 24.5px,#fffd00 35.5px,#ff8d00 46.5px,#ff0e00 56.5px,#ff0400 57.5px,#d30000 63.5px,#a90000 70.5px,#930000 78.5px,#870000 89.5px,#940000 99.5px,#b00000 109.5px,#e40000 119.5px,#ff0100 123.5px,#ff4500 130.5px,#ff8500 135.5px,#ffbd00 138.5px,#fcff03 141.5px,#8bff74 146.5px,#59ffa6 149.5px,#08fff7 156.5px,#00feff 157.5px,#00c7ff 164.5px,#0091ff 174.5px,#0085ff 178.5px)"></i>
<i style="background:linear-gradient(90deg,#0ffff0 0.5px,#3fffc0 11.5px,#7bff84 21.5px,#dcff23 33.5px,#fffc00 37.5px,#ff9a00 46.5px,#ff1000 56.5px,#fb0000 58.5px,#c20000 66.5px,#a30000 73.5px,#8c0000 86.5px,#900000 95.5px,#ad0000 108.5px,#d60000 117.5px,#ff0000 123.5px,#ff3f00 129.5px,#ff8f00 135.5px,#ffc900 138.5px,#fff700 140.5px,#efff10 141.5px,#7dff82 146.5px,#4bffb4 149.5px,#05fffa 155.5px,#00f1ff 157.5px,#00bcff 164.5px,#0088ff 174.5px,#007cff 178.5px)"></i>
<i style="background:linear-gradient(90deg,#03fffc 0.5px,#27ffd8 10.5px,#5dffa2 20.5px,#b2ff4d 31.5px,#fffc00 39.5px,#ffa900 46.5px,#ff2100 55.5px,#fd0000 58.5px,#c60000 66.5px,#a90000 73.5px,#920000 86.5px,#960000 96.5px,#b20000 109.5px,#da0000 118.5px,#ff0000 123.5px,#ff4600 129.5px,#ff9d00 135.5px,#ffd900 138.5px,#fff000 139.5px,#f7ff08 140.5px,#82ff7d 145.5px,#4bffb4 148.5px,#0cfff3 153.5px,#01fffe 154.5px,#00c3ff 161.5px,#008aff 171.5px,#0073ff 178.5px)"></i>
<i style="background:linear-gradient(90deg,#00f6ff 0.5px,#03fffc 5.5px,#33ffcc 17.5px,#70ff8f 26.5px,#b5ff4a 34.5px,#f7ff08 40.5px,#fffb00 41.5px,#ffbb00 46.5px,#ff2500 55.5px,#ff0100 58.5px,#cc0000 66.5px,#af0000 74.5px,#980000 87.5px,#9f0000 98.5px,#b70000 110.5px,#de0000 119.5px,#ff0000 123.5px,#ff4000 128.5px,#ffae00 135.5px,#fcff03 139.5px,#72ff8d 145.5px,#3bffc4 148.5px,#09fff6 152.5px,#00fdff 153.5px,#00bcff 160.5px,#0088ff 169.5px,#006cff 177.5px,#006aff 178.5px)"></i>
<i style="background:linear-gradient(90deg,#00e9ff 0.5px,#01fffe 10.5px,#21ffde 18.5px,#5fffa0 27.5px,#9dff62 34.5px,#f9ff06 42.5px,#fff800 43.5px,#ffbc00 47.5px,#ff2b00 55.5px,#ff0500 58.5px,#f40000 60.5px,#cb0000 68.5px,#a90000 81.5px,#a00000 90.5px,#b10000 106.5px,#ca0000 115.5px,#e30000 120.5px,#ff0000 123.5px,#ff4800 128.5px,#ffd200 136.5px,#fffd00 138.5px,#62ff9d 145.5px,#2cffd3 148.5px,#06fff9 151.5px,#00eeff 153.5px,#00afff 160.5px,#0082ff 168.5px,#0064ff 176.5px,#0061ff 178.5px)"></i>
<i style="background:linear-gradient(90deg,#00dcff 0.5px,#00efff 10.5px,#03fffc 16.5px,#32ffcd 24.5px,#72ff8d 32.5px,#bfff40 39.5px,#ffff00 44.5px,#ffbb00 48.5px,#ff4400 54.5px,#ff1600 57.5px,#ff0300 59.5px,#d00000 69.5px,#ac0000 84.5px,#aa0000 94.5px,#bb0000 109.5px,#d80000 118.5px,#eb0000 121.5px,#ff0200 123.5px,#ff3e00 127.5px,#ffe200 136.5px,#fff700 137.5px,#f1ff0e 138.5px,#53ffac 145.5px,#1effe1 148.5px,#04fffb 150.5px,#00c3ff 156.5px,#0095ff 162.5px,#0063ff 173.5px,#0058ff 178.5px)"></i>
<i style="background:linear-gradient(90deg,#00ceff 0.5px,#00deff 10.5px,#00f9ff 18.5px,#05fffa 20.5px,#4cffb3 30.5px,#93ff6c 37.5px,#fbff04 45.5px,#ffe000 47.5px,#ff5300 54.5px,#ff2400 57.5px,#ff0900 60.5px,#fc0000 62.5px,#d50000 71.5px,#b50000 85.5px,#b50000 97.5px,#c40000 110.5px,#e20000 119.5px,#fa0000 122.5px,#ff0700 123.5px,#ff4700 127.5px,#fff100 136.5px,#f8ff07 137.5px,#44ffbb 145.5px,#10ffef 148.5px,#02fffd 149.5px,#00aeff 157.5px,#0084ff 163.5px,#0057ff 174.5px,#004fff 178.5px)"></i>
<i style="background:linear-gradient(90deg,#00bfff 0.5px,#00cfff 10.5px,#00e8ff 18.5px,#00ffff 22.5px,#42ffbd 31.5px,#8bff74 38.5px,#e6ff19 45.5px,#f7ff08 46.5px,#fff600 47.5px,#ff5a00 55.5px,#ff3000 58.5px,#ff0400 64.5px,#f30000 67.5px,#d10000 77.5px,#bd0000 87.5px,#c60000 105.5px,#dc0000 115.5px,#f20000 120.5px,#fb0000 121.5px,#ff0600 122.5px,#ff4100 126.5px,#fffe00 136.5px,#37ffc8 145.5px,#02fffd 148.5px,#00b4ff 155.5px,#0085ff 161.5px,#0058ff 171.5px,#0047ff 178.5px)"></i>
<i style="background:linear-gradient(90deg,#00b0ff 0.5px,#00bfff 10.5px,#00d8ff 18.5px,#02fffd 25.5px,#42ffbd 33.5px,#9cff63 41.5px,#e0ff1f 46.5px,#fffb00 48.5px,#ff7a00 55.5px,#ff5000 58.5px,#ff1600 65.5px,#fc0000 69.5px,#de0000 77.5px,#ca0000 87.5px,#d10000 104.5px,#e40000 113.5px,#fd0000 119.5px,#ff0c00 121.5px,#ff3100 124.5px,#ff8700 129.5px,#fff800 135.5px,#f2ff0d 136.5px,#29ffd6 145.5px,#04fffb 147.5px,#00dbff 150.5px,#0097ff 157.5px,#0070ff 163.5px,#0045ff 174.5px,#003eff 178.5px)"></i>
<i style="background:linear-gradient(90deg,#00a0ff 0.5px,#00b0ff 10.5px,#00c8ff 18.5px,#00feff 27.5px,#2fffd0 33.5px,#87ff78 41.5px,#c9ff36 46.5px,#faff05 49.5px,#ffe100 51.5px,#ff8f00 56.5px,#ff5f00 60.5px,#ff1900 68.5px,#ff0100 72.5px,#dd0000 84.5px,#da0000 94.5px,#e80000 108.5px,#ff0300 116.5px,#ff1900 120.5px,#ff3700 123.5px,#ff7500 127.5px,#fff400 134.5px,#f7ff08 135.5px,#8aff75 140.5px,#1bffe4 145.5px,#08fff7 146.5px,#00f6ff 147.5px,#00c3ff 151.5px,#0084ff 158.5px,#005dff 165.5px,#003aff 175.5px,#0036ff 178.5px)"></i>
<i style="background:linear-gradient(90deg,#0090ff 0.5px,#009fff 10.5px,#00bcff 19.5px,#02fffd 30.5px,#44ffbb 37.5px,#b1ff4e 46.5px,#feff01 51.5px,#ffa600 57.5px,#ff4500 66.5px,#ff1d00 71.5px,#ff0000 78.5px,#ec0000 87.5px,#f30000 103.5px,#ff0200 110.5px,#ff2a00 119.5px,#ff4300 122.5px,#ff7a00 126.5px,#fff400 133.5px,#f8ff07 134.5px,#a8ff57 138.5px,#0cfff3 145.5px,#00f8ff 146.5px,#00ccff 149.5px,#0088ff 156.5px,#005cff 163.5px,#0034ff 174.5px,#002dff 178.5px)"></i>
<i style="background:linear-gradient(90deg,#0080ff 0.5px,#0091ff 11.5px,#00abff 19.5px,#00e5ff 29.5px,#00fcff 32.5px,#2fffd0 37.5px,#a6ff59 47.5px,#fdff02 53.5px,#ffa700 60.5px,#ff5100 68.5px,#ff2d00 73.5px,#ff0b00 83.5px,#ff0400 91.5px,#ff1300 107.5px,#ff3000 115.5px,#ff4d00 120.5px,#ff7800 124.5px,#ffd700 130.5px,#fff900 132.5px,#e3ff1c 134.5px,#94ff6b 138.5px,#10ffef 144.5px,#00fbff 145.5px,#00c9ff 148.5px,#008cff 154.5px,#005bff 161.5px,#0030ff 172.5px,#0025ff 178.5px)"></i>
<i style="background:linear-gradient(90deg,#006fff 0.5px,#0080ff 11.5px,#009cff 20.5px,#00d6ff 30.5px,#03fffc 35.5px,#8cff73 47.5px,#f8ff07 55.5px,#fff900 56.5px,#ff7700 68.5px,#ff5200 73.5px,#ff2f00 83.5px,#ff2800 91.5px,#ff3700 107.5px,#ff5500 115.5px,#ff7a00 121.5px,#ffa900 125.5px,#fff600 130.5px,#f8ff07 131.5px,#a3ff5c 136.5px,#10ffef 143.5px,#00fbff 144.5px,#00c7ff 147.5px,#0099ff 151.5px,#0060ff 158.5px,#003dff 165.5px,#0020ff 175.5px,#001cff 178.5px)"></i>
<i style="background:linear-gradient(90deg,#005eff 0.5px,#0070ff 12.5px,#008cff 21.5px,#00beff 30.5px,#00f4ff 36.5px,#00feff 37.5px,#8aff75 49.5px,#f8ff07 58.5px,#fffb00 59.5px,#ff9d00 69.5px,#ff7e00 74.5px,#ff5c00 84.5px,#ff5600 92.5px,#ff6600 107.5px,#ff8300 115.5px,#ffa800 121.5px,#ffd400 125.5px,#fffe00 128.5px,#83ff7c 136.5px,#0dfff2 142.5px,#00f8ff 143.5px,#00b4ff 147.5px,#0089ff 151.5px,#0052ff 158.5px,#0032ff 165.5px,#0015ff 176.5px,#0013ff 178.5px)"></i>
<i style="background:linear-gradient(90deg,#004cff 0.5px,#005fff 13.5px,#007bff 22.5px,#00abff 31.5px,#00e4ff 37.5px,#00faff 39.5px,#11ffee 41.5px,#d1ff2e 58.5px,#ffff00 63.5px,#ffc000 71.5px,#ff9700 81.5px,#ff8a00 88.5px,#ff9400 104.5px,#ffa900 112.5px,#ffd300 120.5px,#fff800 124.5px,#fbff04 125.5px,#71ff8e 135.5px,#06fff9 141.5px,#00f3ff 142.5px,#00afff 146.5px,#008aff 149.5px,#0051ff 156.5px,#002cff 163.5px,#000dff 175.5px,#000aff 178.5px)"></i>
<i style="background:linear-gradient(90deg,#0039ff 0.5px,#004dff 14.5px,#006cff 24.5px,#0091ff 31.5px,#00c8ff 37.5px,#00fdff 42.5px,#a6ff59 58.5px,#faff05 68.5px,#fff700 70.5px,#ffd800 77.5px,#ffc000 86.5px,#ffc300 99.5px,#ffd100 108.5px,#fff600 117.5px,#fdff02 119.5px,#d5ff2a 124.5px,#75ff8a 132.5px,#30ffcf 137.5px,#00fcff 140.5px,#0099ff 146.5px,#006eff 150.5px,#0036ff 158.5px,#0019ff 165.5px,#0001ff 176.5px,#0000ff 178.5px)"></i>
<i style="background:linear-gradient(90deg,#0025ff 0.5px,#003dff 16.5px,#0060ff 27.5px,#007cff 32.5px,#00c8ff 40.5px,#00f9ff 45.5px,#0efff1 47.5px,#7fff80 59.5px,#cfff30 69.5px,#ecff13 75.5px,#fffd00 83.5px,#fff700 92.5px,#fcff03 105.5px,#e3ff1c 113.5px,#b8ff47 121.5px,#84ff7b 127.5px,#1dffe2 136.5px,#00feff 138.5px,#0090ff 145.5px,#0062ff 149.5px,#002cff 157.5px,#000eff 164.5px,#0000fc 171.5px,#0000f3 178.5px)"></i>
<i style="background:linear-gradient(90deg,#000fff 0.5px,#002aff 18.5px,#004cff 29.5px,#006dff 34.5px,#00eeff 48.5px,#00ffff 50.5px,#8fff70 68.5px,#aeff51 74.5px,#c8ff37 86.5px,#c3ff3c 100.5px,#b4ff4b 109.5px,#82ff7d 120.5px,#50ffaf 127.5px,#03fffc 135.5px,#00dbff 138.5px,#0069ff 146.5px,#0044ff 150.5px,#0015ff 158.5px,#0000fe 164.5px,#0000e6 176.5px,#0000e5 178.5px)"></i>
<i style="background:linear-gradient(90deg,#0000f6 0.5px,#0003ff 10.5px,#0022ff 26.5px,#0035ff 31.5px,#0066ff 37.5px,#00acff 45.5px,#00ffff 57.5px,#5cffa3 71.5px,#79ff86 81.5px,#82ff7d 90.5px,#75ff8a 106.5px,#56ffa9 115.5px,#23ffdc 125.5px,#00ffff 130.5px,#00ccff 136.5px,#004dff 146.5px,#002bff 150.5px,#0001ff 158.5px,#0000e3 168.5px,#0000d6 178.5px)"></i>
<i style="background:linear-gradient(90deg,#0000dd 0.5px,#0002ff 26.5px,#0012ff 31.5px,#0040ff 37.5px,#007aff 44.5px,#01fffe 69.5px,#1effe1 77.5px,#32ffcd 87.5px,#2affd5 102.5px,#1affe5 110.5px,#00fcff 118.5px,#00c5ff 130.5px,#009cff 136.5px,#0024ff 147.5px,#0000fe 153.5px,#0000dc 162.5px,#0000c5 176.5px,#0000c4 178.5px)"></i>
<i style="background:linear-gradient(90deg,#0000c4 0.5px,#0000e4 28.5px,#0000f9 33.5px,#0000ff 34.5px,#0044ff 43.5px,#0070ff 55.5px,#00bbff 74.5px,#00d5ff 86.5px,#00d2ff 100.5px,#00c2ff 110.5px,#007bff 132.5px,#005dff 137.5px,#0001ff 147.5px,#0000d3 157.5px,#0000bd 167.5px,#0000b3 178.5px)"></i>
<i style="background:linear-gradient(90deg,#0000ac 0.5px,#0000c5 29.5px,#0000d8 34.5px,#0000fd 40.5px,#0019ff 47.5px,#003cff 63.5px,#0062ff 77.5px,#0073ff 88.5px,#0068ff 107.5px,#002dff 134.5px,#0013ff 139.5px,#0000fc 142.5px,#0000d5 148.5px,#0000b3 160.5px,#0000a2 178.5px)"></i>
<i style="background:linear-gradient(90deg,#00009b 0.5px,#0000ac 30.5px,#0000cf 39.5px,#0000e2 46.5px,#0000fd 65.5px,#0020ff 87.5px,#0017ff 108.5px,#0000fd 126.5px,#0000ed 136.5px,#0000b5 149.5px,#00009d 163.5px,#000095 178.5px)"></i>
</div>
<div class="plot fld" style="left:356px">
<i style="background:linear-gradient(90deg,#ffd500 0.5px,#ffe100 34.5px,#fffa00 86.5px,#faff05 110.5px,#e0ff1f 139.5px,#9aff65 178.5px)"></i>
<i style="background:linear-gradient(90deg,#ffd500 0.5px,#ffe100 35.5px,#fffa00 88.5px,#faff05 111.5px,#e1ff1e 139.5px,#9bff64 178.5px)"></i>
<i style="background:linear-gradient(90deg,#ffd400 0.5px,#ffe000 35.5px,#fffa00 90.5px,#faff05 112.5px,#e0ff1f 140.5px,#9bff64 178.5px)"></i>
<i style="background:linear-gradient(90deg,#ffd300 0.5px,#ffe000 36.5px,#fffb00 95.5px,#f9ff06 114.5px,#dfff20 141.5px,#9cff63 178.5px)"></i>
<i style="background:linear-gradient(90deg,#ffd200 0.5px,#ffdf00 37.5px,#feff01 108.5px,#e2ff1d 139.5px,#9dff62 178.5px)"></i>
<i style="background:linear-gradient(90deg,#ffd200 0.5px,#ffdf00 38.5px,#fcff03 112.5px,#e1ff1e 140.5px,#9eff61 178.5px)"></i>
<i style="background:linear-gradient(90deg,#ffd100 0.5px,#ffde00 39.5px,#fcff03 113.5px,#e1ff1e 141.5px,#9eff61 178.5px)"></i>
<i style="background:linear-gradient(90deg,#ffd000 0.5px,#ffdd00 40.5px,#fcff03 114.5px,#e0ff1f 142.5px,#9fff60 178.5px)"></i>
<i style="background:linear-gradient(90deg,#ffcf00 0.5px,#ffdc00 41.5px,#fdff02 115.5px,#e1ff1e 142.5px,#a0ff5f 178.5px)"></i>
<i style="background:linear-gradient(90deg,#ffce00 0.5px,#ffdb00 42.5px,#fcff03 117.5px,#e0ff1f 143.5px,#a1ff5e 178.5px)"></i>
<i style="background:linear-gradient(90deg,#ffcd00 0.5px,#ffda00 43.5px,#fffe00 113.5px,#e4ff1b 141.5px,#a2ff5d 178.5px)"></i>
<i style="background:linear-gradient(90deg,#ffcb00 0.5px,#ffd900 44.5px,#fffc00 112.5px,#eaff15 137.5px,#b2ff4d 169.5px,#a3ff5c 178.5px)"></i>
<i style="background:linear-gradient(90deg,#ffca00 0.5px,#ffd800 45.5px,#fffa00 111.5px,#f8ff07 125.5px,#d7ff28 150.5px,#a4ff5b 178.5px)"></i>
<i style="background:linear-gradient(90deg,#ffc900 0.5px,#ffd700 46.5px,#fff800 110.5px,#fbff04 123.5px,#dbff24 148.5px,#a4ff5b 178.5px)"></i>
<i style="background:linear-gradient(90deg,#ffc800 0.5px,#ffd600 48.5px,#fff600 109.5px,#fbff04 124.5px,#dbff24 149.5px,#a5ff5a 178.5px)"></i>
<i style="background:linear-gradient(90deg,#ffc700 0.5px,#ffd500 49.5px,#fff300 107.5px,#fcff03 124.5px,#daff25 150.5px,#a6ff59 178.5px)"></i>
<i style="background:linear-gradient(90deg,#ffc600 0.5px,#ffd400 50.5px,#fff100 106.5px,#fcff03 125.5px,#d9ff26 151.5px,#a7ff58 178.5px)"></i>
<i style="background:linear-gradient(90deg,#ffc500 0.5px,#ffd300 52.5px,#fff000 106.5px,#fcff03 126.5px,#d8ff27 152.5px,#a8ff57 178.5px)"></i>
<i style="background:linear-gradient(90deg,#ffc300 0.5px,#ffd200 53.5px,#ffed00 105.5px,#fcff03 127.5px,#d6ff29 154.5px,#a9ff56 178.5px)"></i>
<i style="background:linear-gradient(90deg,#ffc200 0.5px,#ffd000 54.5px,#ffeb00 104.5px,#fcff03 128.5px,#d5ff2a 155.5px,#aaff55 178.5px)"></i>
<i style="background:linear-gradient(90deg,#ffc100 0.5px,#ffcf00 56.5px,#ffe900 104.5px,#fcff03 129.5px,#d2ff2d 157.5px,#aaff55 178.5px)"></i>
<i style="background:linear-gradient(90deg,#ffc000 0.5px,#ffce00 57.5px,#ffe700 103.5px,#fcff03 130.5px,#d1ff2e 158.5px,#abff54 178.5px)"></i>
<i style="background:linear-gradient(90deg,#ffbf00 0.5px,#ffcc00 58.5px,#ffe600 103.5px,#fdff02 130.5px,#d2ff2d 158.5px,#acff53 178.5px)"></i>
<i style="background:linear-gradient(90deg,#ffbe00 0.5px,#ffcb00 60.5px,#ffe300 102.5px,#fdff02 131.5px,#d1ff2e 159.5px,#adff52 178.5px)"></i>
<i style="background:linear-gradient(90deg,#ffbc00 0.5px,#ffca00 61.5px,#ffe100 102.5px,#fcff03 132.5px,#d0ff2f 160.5px,#adff52 178.5px)"></i>
<i style="background:linear-gradient(90deg,#ffbb00 0.5px,#ffc800 61.5px,#ffdf00 101.5px,#fcff03 133.5px,#cfff30 161.5px,#aeff51 178.5px)"></i>
<i style="background:linear-gradient(90deg,#ffba00 0.5px,#ffc600 62.5px,#ffdd00 101.5px,#fcff03 134.5px,#ceff31 162.5px,#afff50 178.5px)"></i>
<i style="background:linear-gradient(90deg,#ffb900 0.5px,#ffc400 63.5px,#ffdc00 101.5px,#fcff03 135.5px,#cdff32 163.5px,#afff50 178.5px)"></i>
<i style="background:linear-gradient(90deg,#ffb800 0.5px,#ffc200 63.5px,#ffda00 101.5px,#fdff02 135.5px,#ceff31 163.5px,#b0ff4f 178.5px)"></i>
<i style="background:linear-gradient(90deg,#ffb600 0.5px,#ffc000 63.5px,#ffd700 100.5px,#fdff02 136.5px,#ccff33 164.5px,#b1ff4e 178.5px)"></i>
<i style="background:linear-gradient(90deg,#ffb500 0.5px,#ffbe00 64.5px,#ffd600 100.5px,#fcff03 137.5px,#cbff34 165.5px,#b1ff4e 178.5px)"></i>
<i style="background:linear-gradient(90deg,#ffb400 0.5px,#ffbc00 64.5px,#ffd400 100.5px,#fcff03 138.5px,#ccff33 165.5px,#b2ff4d 178.5px)"></i>
<i style="background:linear-gradient(90deg,#ffb300 0.5px,#ffba00 64.5px,#ffd100 99.5px,#fdff02 138.5px,#cdff32 165.5px,#b3ff4c 178.5px)"></i>
<i style="background:linear-gradient(90deg,#ffb100 0.5px,#ffb800 64.5px,#ffcf00 99.5px,#fdff02 139.5px,#cbff34 166.5px,#b3ff4c 178.5px)"></i>
<i style="background:linear-gradient(90deg,#ffb000 0.5px,#ffb600 64.5px,#ffcd00 99.5px,#fcff03 140.5px,#caff35 167.5px,#b4ff4b 178.5px)"></i>
<i style="background:linear-gradient(90deg,#ffaf00 0.5px,#ffb400 64.5px,#ffca00 98.5px,#fcff03 141.5px,#caff35 167.5px,#b4ff4b 178.5px)"></i>
<i style="background:linear-gradient(90deg,#ffad00 0.5px,#ffb200 64.5px,#ffc800 98.5px,#fdff02 141.5px,#cbff34 167.5px,#b5ff4a 178.5px)"></i>
<i style="background:linear-gradient(90deg,#ffac00 0.5px,#ffaf00 64.5px,#ffc500 97.5px,#fcff03 142.5px,#c9ff36 168.5px,#b5ff4a 178.5px)"></i>
<i style="background:linear-gradient(90deg,#ffab00 0.5px,#ffad00 64.5px,#ffc400 97.5px,#fcff03 143.5px,#c8ff37 169.5px,#b6ff49 178.5px)"></i>
<i style="background:linear-gradient(90deg,#ffa900 0.5px,#ffab00 64.5px,#ffc200 97.5px,#fdff02 143.5px,#c9ff36 169.5px,#b6ff49 178.5px)"></i>
<i style="background:linear-gradient(90deg,#ffa800 0.5px,#ffa900 64.5px,#ffbe00 96.5px,#fcff03 144.5px,#c7ff38 170.5px,#b7ff48 178.5px)"></i>
<i style="background:linear-gradient(90deg,#ffa700 0.5px,#ffa600 64.5px,#ffbc00 96.5px,#fdff02 144.5px,#caff35 169.5px,#b7ff48 178.5px)"></i>
<i style="background:linear-gradient(90deg,#ffa500 0.5px,#ffa400 64.5px,#ffba00 96.5px,#fdff02 145.5px,#c6ff39 171.5px,#b8ff47 178.5px)"></i>
<i style="background:linear-gradient(90deg,#ffa400 0.5px,#ffa200 64.5px,#ffb700 95.5px,#fcff03 146.5px,#b8ff47 178.5px)"></i>
<i style="background:linear-gradient(90deg,#ffa300 0.5px,#ff9f00 64.5px,#ffb500 95.5px,#fdff02 146.5px,#b9ff46 178.5px)"></i>
<i style="background:linear-gradient(90deg,#ffa100 0.5px,#ff9d00 64.5px,#ffb200 94.5px,#fdff02 147.5px,#b9ff46 178.5px)"></i>
<i style="background:linear-gradient(90deg,#ffa000 0.5px,#ff9b00 64.5px,#ffb000 94.5px,#fcff03 148.5px,#baff45 178.5px)"></i>
<i style="background:linear-gradient(90deg,#ff9f00 0.5px,#ff9800 64.5px,#ffad00 94.5px,#fdff02 148.5px,#baff45 178.5px)"></i>
<i style="background:linear-gradient(90deg,#ff9e00 0.5px,#ff9600 64.5px,#ffaa00 93.5px,#fffc00 146.5px,#e3ff1c 161.5px,#bbff44 178.5px)"></i>
<i style="background:linear-gradient(90deg,#ff9c00 0.5px,#ff9300 64.5px,#ffa800 93.5px,#fff700 144.5px,#fcff03 150.5px,#bbff44 178.5px)"></i>
<i style="background:linear-gradient(90deg,#ff9b00 0.5px,#ff9100 64.5px,#ffa400 92.5px,#ffe500 134.5px,#fdff02 150.5px,#bcff43 178.5px)"></i>
<i style="background:linear-gradient(90deg,#ff9a00 0.5px,#ff8e00 64.5px,#ffa200 92.5px,#ffdf00 131.5px,#fcff03 151.5px,#bcff43 178.5px)"></i>
<i style="background:linear-gradient(90deg,#ff9900 0.5px,#ff8c00 64.5px,#ff9f00 92.5px,#ffda00 129.5px,#fdff02 151.5px,#bdff42 178.5px)"></i>
<i style="background:linear-gradient(90deg,#ff9800 0.5px,#ff8a00 64.5px,#ff9c00 91.5px,#ffcc00 122.5px,#fcff03 152.5px,#bdff42 178.5px)"></i>
<i style="background:linear-gradient(90deg,#ff9700 0.5px,#ff8700 64.5px,#ff9900 91.5px,#ffc800 121.5px,#fdff02 152.5px,#beff41 178.5px)"></i>
<i style="background:linear-gradient(90deg,#ff9600 0.5px,#ff8500 64.5px,#ff9500 90.5px,#ffc000 118.5px,#fcff03 153.5px,#beff41 178.5px)"></i>
<i style="background:linear-gradient(90deg,#ff9400 0.5px,#ff8200 64.5px,#ff9300 90.5px,#ffbc00 117.5px,#feff01 153.5px,#bfff40 178.5px)"></i>
<i style="background:linear-gradient(90deg,#ff9300 0.5px,#ff7f00 64.5px,#ff9000 90.5px,#ffba00 117.5px,#fdff02 154.5px,#c0ff3f 178.5px)"></i>
<i style="background:linear-gradient(90deg,#ff9200 0.5px,#ff7d00 64.5px,#ff8c00 89.5px,#ffb400 115.5px,#feff01 154.5px,#c0ff3f 178.5px)"></i>
<i style="background:linear-gradient(90deg,#ff9100 0.5px,#ff7a00 63.5px,#ff8800 88.5px,#ffae00 113.5px,#fdff02 155.5px,#c1ff3e 178.5px)"></i>
<i style="background:linear-gradient(90deg,#ff9000 0.5px,#ff7800 63.5px,#ff8500 88.5px,#ffab00 113.5px,#feff01 155.5px,#c2ff3d 178.5px)"></i>
<i style="background:linear-gradient(90deg,#ff8f00 0.5px,#ff7500 63.5px,#ff8100 87.5px,#ffa500 111.5px,#fdff02 156.5px,#c3ff3c 178.5px)"></i>
<i style="background:linear-gradient(90deg,#ff8f00 0.5px,#ff7900 45.5px,#ff7300 68.5px,#ff8300 91.5px,#ffac00 116.5px,#fcff03 157.5px,#c4ff3b 178.5px)"></i>
<i style="background:linear-gradient(90deg,#ff8e00 0.5px,#ff7900 42.5px,#ff7000 66.5px,#ff7d00 89.5px,#ffa300 113.5px,#fffb00 155.5px,#efff10 162.5px,#c5ff3a 178.5px)"></i>
<i style="background:linear-gradient(90deg,#ff8d00 0.5px,#ff7800 40.5px,#ff6d00 65.5px,#ff7900 88.5px,#ff9c00 111.5px,#fff700 154.5px,#fcff03 158.5px,#c5ff3a 178.5px)"></i>
<i style="background:linear-gradient(90deg,#ff8c00 0.5px,#ff7700 39.5px,#ff6a00 64.5px,#ff7500 87.5px,#ff9700 110.5px,#fff500 154.5px,#fbff04 159.5px,#c6ff39 178.5px)"></i>
<i style="background:linear-gradient(90deg,#ff8b00 0.5px,#ff7600 38.5px,#ff6800 63.5px,#ff7100 86.5px,#ff9000 108.5px,#fff100 153.5px,#fcff03 159.5px,#c7ff38 178.5px)"></i>
<i style="background:linear-gradient(90deg,#ff8a00 0.5px,#ff7500 37.5px,#ff6500 63.5px,#ff6d00 86.5px,#ff8d00 108.5px,#ffef00 153.5px,#feff01 159.5px,#caff35 177.5px,#c8ff37 178.5px)"></i>
<i style="background:linear-gradient(90deg,#ff8900 0.5px,#ff7400 36.5px,#ff6200 62.5px,#ff6900 85.5px,#ff8600 106.5px,#ffe800 151.5px,#fcff03 160.5px,#cbff34 177.5px,#caff35 178.5px)"></i>
<i style="background:linear-gradient(90deg,#ff8800 0.5px,#ff7400 35.5px,#ff5f00 62.5px,#ff6600 85.5px,#ff8200 106.5px,#ffe600 151.5px,#feff01 160.5px,#ccff33 177.5px,#cbff34 178.5px)"></i>
<i style="background:linear-gradient(90deg,#ff8700 0.5px,#ff7300 34.5px,#ff5d00 62.5px,#ff6200 85.5px,#ff7f00 106.5px,#ffe100 150.5px,#fcff03 161.5px,#ceff31 177.5px,#ccff33 178.5px)"></i>
<i style="background:linear-gradient(90deg,#ff8700 0.5px,#ff7200 33.5px,#ff5a00 62.5px,#ff5f00 85.5px,#ff7900 105.5px,#ffdc00 149.5px,#fdff02 161.5px,#cfff30 177.5px,#cdff32 178.5px)"></i>
<i style="background:linear-gradient(90deg,#ff8600 0.5px,#ff7100 33.5px,#ff5700 62.5px,#ff5b00 84.5px,#ff7400 104.5px,#ffd700 148.5px,#ffff00 161.5px,#d0ff2f 177.5px,#ceff31 178.5px)"></i>
<i style="background:linear-gradient(90deg,#ff8500 0.5px,#ff7100 32.5px,#ff5500 61.5px,#ff5600 83.5px,#ff6d00 102.5px,#ffca00 144.5px,#fdff02 162.5px,#d1ff2e 177.5px,#cfff30 178.5px)"></i>
<i style="background:linear-gradient(90deg,#ff8400 0.5px,#ff6f00 32.5px,#ff5200 61.5px,#ff5300 83.5px,#ff6900 102.5px,#ffc500 143.5px,#feff01 162.5px,#d2ff2d 177.5px,#d0ff2f 178.5px)"></i>
<i style="background:linear-gradient(90deg,#ff8400 0.5px,#ff6f00 31.5px,#ff4f00 61.5px,#ff4f00 83.5px,#ff6500 102.5px,#ffc000 142.5px,#fcff03 163.5px,#d3ff2c 177.5px,#d1ff2e 178.5px)"></i>
<i style="background:linear-gradient(90deg,#ff8300 0.5px,#ff6f00 30.5px,#ff4c00 61.5px,#ff4c00 83.5px,#ff6000 101.5px,#ffb000 137.5px,#ffef00 158.5px,#feff01 163.5px,#d4ff2b 177.5px,#d2ff2d 178.5px)"></i>
<i style="background:linear-gradient(90deg,#ff8200 0.5px,#ff6d00 30.5px,#ff4900 61.5px,#ff4800 83.5px,#ff5c00 101.5px,#ffa800 135.5px,#ffe600 156.5px,#ffff00 163.5px,#d5ff2a 177.5px,#d3ff2c 178.5px)"></i>
<i style="background:linear-gradient(90deg,#ff8200 0.5px,#ff6d00 29.5px,#ff4600 61.5px,#ff4400 82.5px,#ff5600 100.5px,#ff9b00 131.5px,#ffda00 153.5px,#fcff03 164.5px,#d6ff29 177.5px,#d4ff2b 178.5px)"></i>
<i style="background:linear-gradient(90deg,#ff8100 0.5px,#ff6c00 29.5px,#ff4400 61.5px,#ff4100 82.5px,#ff5100 99.5px,#ff8b00 126.5px,#ffce00 150.5px,#fdff02 164.5px,#d7ff28 177.5px,#d5ff2a 178.5px)"></i>
<i style="background:linear-gradient(90deg,#ff8100 0.5px,#ff6c00 28.5px,#ff4100 61.5px,#ff3d00 82.5px,#ff4d00 99.5px,#ff8500 125.5px,#ffcc00 150.5px,#ffff00 164.5px,#d8ff27 177.5px,#d6ff29 178.5px)"></i>
<i style="background:linear-gradient(90deg,#ff8000 0.5px,#ff6b00 28.5px,#ff3e00 61.5px,#ff3900 82.5px,#ff4900 99.5px,#ff7f00 124.5px,#ffc700 149.5px,#fffe00 164.5px,#d8ff27 177.5px,#d7ff28 178.5px)"></i>
<i style="background:linear-gradient(90deg,#ff8000 0.5px,#ff6b00 27.5px,#ff3b00 61.5px,#ff3500 82.5px,#ff4500 99.5px,#ff7900 123.5px,#ffc100 148.5px,#fdff02 165.5px,#d9ff26 177.5px,#d7ff28 178.5px)"></i>
<i style="background:linear-gradient(90deg,#ff7f00 0.5px,#ff6c00 26.5px,#ff3700 62.5px,#ff3200 82.5px,#ff4000 99.5px,#ff7300 122.5px,#ffbc00 147.5px,#feff01 165.5px,#daff25 177.5px,#d8ff27 178.5px)"></i>
<i style="background:linear-gradient(90deg,#ff7f00 0.5px,#ff6b00 26.5px,#ff3400 62.5px,#ff2e00 82.5px,#ff3b00 98.5px,#ff6800 119.5px,#ffb300 145.5px,#feff01 165.5px,#daff25 177.5px,#d9ff26 178.5px)"></i>
<i style="background:linear-gradient(90deg,#ff7f00 0.5px,#ff6c00 25.5px,#ff3100 62.5px,#ff2a00 82.5px,#ff3700 98.5px,#ff6400 119.5px,#ffad00 144.5px,#ffff00 165.5px,#dbff24 177.5px,#d9ff26 178.5px)"></i>
<i style="background:linear-gradient(90deg,#ff7f00 0.5px,#ff6b00 25.5px,#ff2e00 62.5px,#ff2600 82.5px,#ff3200 98.5px,#ff5d00 118.5px,#ffa800 143.5px,#fffe00 165.5px,#dbff24 177.5px,#d9ff26 178.5px)"></i>
<i style="background:linear-gradient(90deg,#ff7f00 0.5px,#ff6c00 24.5px,#ff2b00 62.5px,#ff2300 82.5px,#ff2e00 98.5px,#ff5900 118.5px,#ffa200 142.5px,#fcff03 166.5px,#dcff23 177.5px,#daff25 178.5px)"></i>
<i style="background:linear-gradient(90deg,#ff7f00 0.5px,#ff6c00 23.5px,#ff2800 62.5px,#ff1f00 81.5px,#ff2900 97.5px,#ff5000 116.5px,#ff9c00 141.5px,#fdff02 166.5px,#dcff23 177.5px,#daff25 178.5px)"></i>
<i style="background:linear-gradient(90deg,#ff7f00 0.5px,#ff6c00 23.5px,#ff2500 62.5px,#ff1b00 81.5px,#ff2400 97.5px,#ff4a00 115.5px,#ff9300 139.5px,#fdff02 166.5px,#dcff23 177.5px,#daff25 178.5px)"></i>
<i style="background:linear-gradient(90deg,#ff7f00 0.5px,#ff6d00 22.5px,#ff4100 45.5px,#ff2000 64.5px,#ff1700 84.5px,#ff2300 99.5px,#ff4e00 118.5px,#ff9800 141.5px,#feff01 166.5px,#dcff23 177.5px,#daff25 178.5px)"></i>
<i style="background:linear-gradient(90deg,#ff7f00 0.5px,#ff6d00 22.5px,#ff3f00 45.5px,#ff1d00 64.5px,#ff1300 83.5px,#ff1d00 98.5px,#ff4400 116.5px,#ff8e00 139.5px,#feff01 166.5px,#dcff23 177.5px,#daff25 178.5px)"></i>
<i style="background:linear-gradient(90deg,#ff7f00 0.5px,#ff6e00 21.5px,#ff4400 42.5px,#ff1c00 62.5px,#ff0f00 80.5px,#ff1600 96.5px,#ff3800 113.5px,#ff8100 136.5px,#feff01 166.5px,#dcff23 177.5px,#daff25 178.5px)"></i>
<i style="background:linear-gradient(90deg,#ff7f00 0.5px,#ff6e00 21.5px,#ff4500 41.5px,#ff1900 62.5px,#ff0b00 80.5px,#ff1200 96.5px,#ff3100 112.5px,#ff7700 134.5px,#ffd900 157.5px,#feff01 166.5px,#dcff23 177.5px,#daff25 178.5px)"></i>
<i style="background:linear-gradient(90deg,#ff7f00 0.5px,#ff6f00 20.5px,#ff4900 39.5px,#ff1800 61.5px,#ff0800 79.5px,#ff0c00 95.5px,#ff2a00 111.5px,#ff6c00 132.5px,#ffca00 154.5px,#feff01 166.5px,#dcff23 177.5px,#daff25 178.5px)"></i>
<i style="background:linear-gradient(90deg,#ff7f00 0.5px,#ff6f00 20.5px,#ff4800 39.5px,#ff1500 61.5px,#ff0400 79.5px,#ff0800 95.5px,#ff2600 111.5px,#ff6600 131.5px,#ffc500 153.5px,#feff01 166.5px,#dbff24 177.5px,#d9ff26 178.5px)"></i>
<i style="background:linear-gradient(90deg,#ff8000 0.5px,#ff7100 19.5px,#ff4c00 37.5px,#ff1300 60.5px,#ff0100 77.5px,#ff0400 95.5px,#ff1f00 110.5px,#ff5f00 130.5px,#ffbf00 152.5px,#feff01 166.5px,#dbff24 177.5px,#d9ff26 178.5px)"></i>
<i style="background:linear-gradient(90deg,#ff8000 0.5px,#ff7100 19.5px,#ff4b00 37.5px,#ff1000 60.5px,#fe0000 74.5px,#fc0000 92.5px,#ff0800 101.5px,#ff2f00 117.5px,#ff7400 136.5px,#feff01 166.5px,#dbff24 177.5px,#d9ff26 178.5px)"></i>
<i style="background:linear-gradient(90deg,#ff8000 0.5px,#ff7100 19.5px,#ff4900 37.5px,#ff0e00 60.5px,#fd0000 71.5px,#f60000 89.5px,#ff0300 101.5px,#ff2700 116.5px,#ff6e00 135.5px,#feff01 166.5px,#daff25 177.5px,#d8ff27 178.5px)"></i>
<i style="background:linear-gradient(90deg,#ff8100 0.5px,#ff7300 18.5px,#ff4e00 35.5px,#ff0b00 60.5px,#fd0000 68.5px,#f20000 87.5px,#ff0300 103.5px,#ff2d00 119.5px,#ff7400 137.5px,#feff01 166.5px,#daff25 177.5px,#d8ff27 178.5px)"></i>
<i style="background:linear-gradient(90deg,#ff8100 0.5px,#ff7300 18.5px,#ff4d00 35.5px,#ff0800 60.5px,#fb0000 67.5px,#ee0000 85.5px,#f70000 99.5px,#ff0500 106.5px,#ff3400 122.5px,#ff8100 140.5px,#fffc00 165.5px,#d9ff26 177.5px,#d7ff28 178.5px)"></i>
<i style="background:linear-gradient(90deg,#ff8200 0.5px,#ff7300 18.5px,#ff4c00 35.5px,#ff0500 60.5px,#f80000 67.5px,#ea0000 85.5px,#f30000 99.5px,#ff0300 107.5px,#ff3400 123.5px,#ff8400 141.5px,#fffc00 165.5px,#d7ff28 178.5px)"></i>
<i style="background:linear-gradient(90deg,#ff8200 0.5px,#ff7500 17.5px,#ff5100 33.5px,#ff0400 59.5px,#f60000 66.5px,#e70000 84.5px,#ee0000 98.5px,#ff0300 109.5px,#ff3800 125.5px,#ff8d00 143.5px,#fffc00 165.5px,#d8ff27 177.5px,#d6ff29 178.5px)"></i>
<i style="background:linear-gradient(90deg,#ff8300 0.5px,#ff7500 17.5px,#ff5000 33.5px,#ff0200 59.5px,#e70000 77.5px,#e50000 93.5px,#fa0000 107.5px,#ff0700 112.5px,#ff3d00 127.5px,#ff9c00 146.5px,#fffd00 165.5px,#d8ff27 177.5px,#d6ff29 178.5px)"></i>
<i style="background:linear-gradient(90deg,#ff8300 0.5px,#ff7500 17.5px,#ff4f00 33.5px,#ff0100 58.5px,#e40000 76.5px,#e10000 92.5px,#f40000 106.5px,#ff0400 112.5px,#ff3a00 127.5px,#ff9b00 146.5px,#fffd00 165.5px,#d7ff28 177.5px,#d5ff2a 178.5px)"></i>
<i style="background:linear-gradient(90deg,#ff8300 0.5px,#ff7500 17.5px,#ff4e00 33.5px,#ff0100 57.5px,#e30000 74.5px,#dd0000 91.5px,#ee0000 105.5px,#ff0300 113.5px,#ff3700 127.5px,#ff9500 145.5px,#fff900 164.5px,#f7ff08 167.5px,#d6ff29 177.5px,#d4ff2b 178.5px)"></i>
<i style="background:linear-gradient(90deg,#ff8400 0.5px,#ff7700 16.5px,#ff5300 31.5px,#fe0000 57.5px,#e20000 72.5px,#d90000 89.5px,#e60000 103.5px,#ff0200 114.5px,#ff3900 128.5px,#ffa500 148.5px,#ffff00 165.5px,#d8ff27 176.5px,#d3ff2c 178.5px)"></i>
<i style="background:linear-gradient(90deg,#ff8400 0.5px,#ff7700 16.5px,#ff5200 31.5px,#fe0000 56.5px,#e00000 71.5px,#d50000 88.5px,#e10000 102.5px,#ff0100 115.5px,#ff3a00 129.5px,#fff600 163.5px,#faff05 166.5px,#d7ff28 176.5px,#d2ff2d 178.5px)"></i>
<i style="background:linear-gradient(90deg,#ff8500 0.5px,#ff7800 16.5px,#ff5100 31.5px,#ff0000 55.5px,#df0000 70.5px,#d20000 87.5px,#dc0000 101.5px,#fa0000 114.5px,#ff0800 118.5px,#ff4200 131.5px,#ffed00 161.5px,#fdff02 165.5px,#d6ff29 176.5px,#d1ff2e 178.5px)"></i>
<i style="background:linear-gradient(90deg,#ff8500 0.5px,#ff7800 16.5px,#ff5100 31.5px,#ff0000 54.5px,#dd0000 69.5px,#cf0000 86.5px,#d80000 100.5px,#f30000 113.5px,#ff0500 118.5px,#ff3f00 131.5px,#ffee00 161.5px,#fcff03 165.5px,#d5ff2a 176.5px,#d1ff2e 178.5px)"></i>
<i style="background:linear-gradient(90deg,#ff8600 0.5px,#ff7800 16.5px,#ff5300 30.5px,#fd0000 54.5px,#dc0000 68.5px,#cd0000 85.5px,#d30000 99.5px,#ed0000 112.5px,#ff0200 118.5px,#ff3d00 131.5px,#ffea00 160.5px,#fffe00 164.5px,#d6ff29 175.5px,#d0ff2f 178.5px)"></i>
<i style="background:linear-gradient(90deg,#ff8600 0.5px,#ff7a00 15.5px,#ff5600 29.5px,#fe0000 53.5px,#db0000 67.5px,#ca0000 84.5px,#d00000 99.5px,#ea0000 112.5px,#ff0200 119.5px,#ff3b00 131.5px,#ffe600 159.5px,#ffff00 164.5px,#d5ff2a 175.5px,#cfff30 178.5px)"></i>
<i style="background:linear-gradient(90deg,#ff8700 0.5px,#ff7a00 15.5px,#ff5500 29.5px,#ff0000 52.5px,#db0000 66.5px,#c80000 83.5px,#cc0000 98.5px,#e40000 111.5px,#ff0300 120.5px,#ff3e00 132.5px,#ffe700 159.5px,#feff01 164.5px,#d4ff2b 175.5px,#ceff31 178.5px)"></i>
<i style="background:linear-gradient(90deg,#ff8800 0.5px,#ff7a00 15.5px,#ff5800 28.5px,#fd0000 52.5px,#d80000 66.5px,#c60000 83.5px,#ca0000 98.5px,#e10000 111.5px,#ff0000 120.5px,#ff3c00 132.5px,#ffe200 158.5px,#fcff03 164.5px,#d6ff29 174.5px,#cdff32 178.5px)"></i>
<i style="background:linear-gradient(90deg,#ff8800 0.5px,#ff7b00 15.5px,#ff5700 28.5px,#ff0000 51.5px,#d80000 65.5px,#c40000 82.5px,#c60000 97.5px,#de0000 111.5px,#ff0100 121.5px,#ff3f00 133.5px,#ffe300 158.5px,#fffe00 163.5px,#d5ff2a 174.5px,#ccff33 178.5px)"></i>
<i style="background:linear-gradient(90deg,#ff8900 0.5px,#ff7b00 15.5px,#ff5700 28.5px,#fd0000 51.5px,#d80000 64.5px,#c30000 80.5px,#c20000 95.5px,#d70000 109.5px,#ff0300 122.5px,#ff4300 134.5px,#ffde00 157.5px,#ffff00 163.5px,#d6ff29 173.5px,#cbff34 178.5px)"></i>
<i style="background:linear-gradient(90deg,#ff8a00 0.5px,#ff7c00 15.5px,#ff5600 28.5px,#ff0000 50.5px,#d60000 64.5px,#c10000 80.5px,#c00000 95.5px,#d40000 109.5px,#fb0000 121.5px,#ff0900 124.5px,#ff4f00 136.5px,#ffdf00 157.5px,#feff01 163.5px,#d5ff2a 173.5px,#caff35 178.5px)"></i>
<i style="background:linear-gradient(90deg,#ff8b00 0.5px,#ff7e00 14.5px,#ff5d00 26.5px,#fd0000 50.5px,#d60000 63.5px,#bf0000 79.5px,#be0000 95.5px,#d20000 109.5px,#f80000 121.5px,#ff0700 124.5px,#ff4600 135.5px,#ffe000 157.5px,#fdff02 163.5px,#d4ff2b 173.5px,#c9ff36 178.5px)"></i>
<i style="background:linear-gradient(90deg,#ff8c00 0.5px,#ff7e00 14.5px,#ff5d00 26.5px,#ff0100 49.5px,#d40000 63.5px,#bd0000 79.5px,#bc0000 95.5px,#d00000 109.5px,#f60000 121.5px,#ff0000 123.5px,#ff3d00 134.5px,#ffe100 157.5px,#fffd00 162.5px,#d3ff2c 173.5px,#c8ff37 178.5px)"></i>
<i style="background:linear-gradient(90deg,#ff8d00 0.5px,#ff7f00 14.5px,#ff5d00 26.5px,#fe0000 49.5px,#d50000 62.5px,#bd0000 77.5px,#b90000 93.5px,#c90000 107.5px,#ec0000 119.5px,#ff0200 124.5px,#ff4200 135.5px,#ffdb00 156.5px,#fffe00 162.5px,#d2ff2d 173.5px,#c7ff38 178.5px)"></i>
<i style="background:linear-gradient(90deg,#ff8e00 0.5px,#ff8000 14.5px,#ff5d00 26.5px,#fd0000 49.5px,#d30000 62.5px,#bc0000 77.5px,#b70000 93.5px,#c90000 108.5px,#ed0000 120.5px,#ff0000 124.5px,#ff3900 134.5px,#ffdc00 156.5px,#ffff00 162.5px,#d4ff2b 172.5px,#c5ff3a 178.5px)"></i>
<i style="background:linear-gradient(90deg,#ff8f00 0.5px,#ff8000 14.5px,#ff5d00 26.5px,#ff0000 48.5px,#d10000 62.5px,#ba0000 77.5px,#b60000 93.5px,#c70000 108.5px,#eb0000 120.5px,#ff0200 125.5px,#ff3e00 135.5px,#ffdc00 156.5px,#feff01 162.5px,#d3ff2c 172.5px,#c4ff3b 178.5px)"></i>
<i style="background:linear-gradient(90deg,#ff9000 0.5px,#ff8100 14.5px,#ff5d00 26.5px,#fe0000 48.5px,#d20000 61.5px,#b90000 76.5px,#b40000 92.5px,#c40000 107.5px,#e50000 119.5px,#ff0000 125.5px,#ff3c00 135.5px,#ffdd00 156.5px,#fdff02 162.5px,#d2ff2d 172.5px,#c3ff3c 178.5px)"></i>
<i style="background:linear-gradient(90deg,#ff9200 0.5px,#ff8200 14.5px,#ff5d00 26.5px,#fd0000 48.5px,#d10000 61.5px,#b80000 76.5px,#b20000 93.5px,#c40000 108.5px,#e70000 120.5px,#ff0300 126.5px,#ff4100 136.5px,#ffd600 155.5px,#fffd00 161.5px,#cdff32 173.5px,#c2ff3d 178.5px)"></i>
<i style="background:linear-gradient(90deg,#ff9300 0.5px,#ff8300 14.5px,#ff6100 25.5px,#ff0100 47.5px,#cf0000 61.5px,#b60000 76.5px,#b10000 93.5px,#c20000 108.5px,#e50000 120.5px,#ff0100 126.5px,#ff3f00 136.5px,#ffd700 155.5px,#fffd00 161.5px,#cfff30 172.5px,#c1ff3e 178.5px)"></i>
<i style="background:linear-gradient(90deg,#ff9500 0.5px,#ff8400 14.5px,#ff6200 25.5px,#ff0000 47.5px,#d00000 60.5px,#b70000 74.5px,#af0000 91.5px,#bd0000 106.5px,#dc0000 118.5px,#fe0000 126.5px,#ff3600 135.5px,#ffd700 155.5px,#fffe00 161.5px,#d2ff2d 171.5px,#c0ff3f 178.5px)"></i>
<i style="background:linear-gradient(90deg,#ff9700 0.5px,#ff8600 14.5px,#ff6200 25.5px,#fe0000 47.5px,#cf0000 60.5px,#b60000 74.5px,#ae0000 91.5px,#be0000 107.5px,#de0000 119.5px,#ff0200 127.5px,#ff3b00 136.5px,#ffd700 155.5px,#ffff00 161.5px,#d1ff2e 171.5px,#bfff40 178.5px)"></i>
<i style="background:linear-gradient(90deg,#ff9900 0.5px,#ff8900 13.5px,#ff6700 24.5px,#fd0000 47.5px,#d10000 59.5px,#b60000 73.5px,#ac0000 90.5px,#bb0000 106.5px,#dd0000 119.5px,#ff0000 127.5px,#ff3900 136.5px,#ffd700 155.5px,#feff01 161.5px,#d0ff2f 171.5px,#beff41 178.5px)"></i>
<i style="background:linear-gradient(90deg,#ff9b00 0.5px,#ff8a00 13.5px,#ff6800 24.5px,#ff0100 46.5px,#cd0000 60.5px,#b40000 74.5px,#ab0000 91.5px,#bb0000 107.5px,#df0000 120.5px,#fd0000 127.5px,#ff3000 135.5px,#ffd800 155.5px,#fdff02 161.5px,#ceff31 171.5px,#bcff43 178.5px)"></i>
<i style="background:linear-gradient(90deg,#ff9d00 0.5px,#ff8c00 13.5px,#ff6800 24.5px,#ff0100 46.5px,#ce0000 59.5px,#b40000 73.5px,#aa0000 90.5px,#b80000 106.5px,#da0000 119.5px,#ff0200 128.5px,#ff3500 136.5px,#ffd000 154.5px,#fdff02 161.5px,#cdff32 171.5px,#bbff44 178.5px)"></i>
<i style="background:linear-gradient(90deg,#ffa000 0.5px,#ff8e00 13.5px,#ff6900 24.5px,#ff0000 46.5px,#d00000 58.5px,#b40000 72.5px,#a90000 90.5px,#b70000 106.5px,#d80000 119.5px,#ff0000 128.5px,#ff3300 136.5px,#ffd100 154.5px,#fffc00 160.5px,#ccff33 171.5px,#b9ff46 178.5px)"></i>
<i style="background:linear-gradient(90deg,#ffa200 0.5px,#ff8f00 13.5px,#ff6a00 24.5px,#fe0000 46.5px,#cf0000 58.5px,#b30000 72.5px,#a80000 90.5px,#b50000 106.5px,#d70000 119.5px,#fd0000 128.5px,#ff2a00 135.5px,#ff8c00 146.5px,#ffef00 158.5px,#fffd00 160.5px,#caff35 171.5px,#b8ff47 178.5px)"></i>
<i style="background:linear-gradient(90deg,#ffa500 0.5px,#ff9100 13.5px,#ff6b00 24.5px,#fd0000 46.5px,#ce0000 58.5px,#b20000 72.5px,#a70000 90.5px,#b40000 106.5px,#d50000 119.5px,#ff0200 129.5px,#ff3800 137.5px,#ffc900 153.5px,#fffe00 160.5px,#cdff32 170.5px,#b6ff49 178.5px)"></i>
<i style="background:linear-gradient(90deg,#ffa800 0.5px,#ff9300 13.5px,#ff6d00 24.5px,#ff0200 45.5px,#ca0000 59.5px,#af0000 73.5px,#a50000 91.5px,#b40000 107.5px,#d70000 120.5px,#ff0000 129.5px,#ff3600 137.5px,#ffca00 153.5px,#ffff00 160.5px,#cfff30 169.5px,#b4ff4b 178.5px)"></i>
<i style="background:linear-gradient(90deg,#ffab00 0.5px,#ff9600 13.5px,#ff7200 23.5px,#ff0100 45.5px,#c90000 59.5px,#ae0000 73.5px,#a40000 91.5px,#b30000 107.5px,#d60000 120.5px,#fe0000 129.5px,#ff2d00 136.5px,#ffcb00 153.5px,#fdff02 160.5px,#cdff32 169.5px,#b2ff4d 178.5px)"></i>
<i style="background:linear-gradient(90deg,#ffae00 0.5px,#ff9b00 12.5px,#ff7900 22.5px,#ff2b00 37.5px,#ff0100 45.5px,#cb0000 58.5px,#ae0000 72.5px,#a30000 90.5px,#b00000 106.5px,#d10000 119.5px,#ff0300 130.5px,#ff3400 137.5px,#ffc300 152.5px,#fffc00 159.5px,#cfff30 168.5px,#b1ff4e 177.5px,#afff50 178.5px)"></i>
<i style="background:linear-gradient(90deg,#ffb200 0.5px,#ff9e00 12.5px,#ff7b00 22.5px,#ff2c00 37.5px,#ff0000 45.5px,#cb0000 58.5px,#ad0000 72.5px,#a10000 90.5px,#b00000 107.5px,#d20000 120.5px,#ff0100 130.5px,#ff3300 137.5px,#ffc500 152.5px,#fffe00 159.5px,#ccff33 168.5px,#adff52 177.5px,#abff54 178.5px)"></i>
<i style="background:linear-gradient(90deg,#ffb600 0.5px,#ffa100 12.5px,#ff7d00 22.5px,#ff3200 36.5px,#fe0000 45.5px,#cd0000 57.5px,#ad0000 71.5px,#a00000 89.5px,#ad0000 106.5px,#cd0000 119.5px,#f90000 129.5px,#ff0600 131.5px,#ff3200 137.5px,#ffbe00 151.5px,#feff01 159.5px,#ceff31 167.5px,#acff53 176.5px,#a7ff58 178.5px)"></i>
<i style="background:linear-gradient(90deg,#ffbb00 0.5px,#ffa500 12.5px,#ff8100 22.5px,#ff3900 35.5px,#fe0000 45.5px,#cc0000 57.5px,#ac0000 71.5px,#9e0000 89.5px,#ab0000 106.5px,#cc0000 119.5px,#f80000 129.5px,#ff0400 131.5px,#ff3100 137.5px,#ffc000 151.5px,#fffc00 158.5px,#c1ff3e 169.5px,#a3ff5c 178.5px)"></i>
<i style="background:linear-gradient(90deg,#ffc000 0.5px,#ffa900 12.5px,#ff8400 22.5px,#ff3a00 35.5px,#ff0300 44.5px,#cf0000 56.5px,#ac0000 70.5px,#9d0000 87.5px,#a60000 104.5px,#c10000 116.5px,#e60000 126.5px,#ff0300 131.5px,#ff3100 137.5px,#ffba00 150.5px,#ffff00 158.5px,#cbff34 166.5px,#a5ff5a 175.5px,#9dff62 178.5px)"></i>
<i style="background:linear-gradient(90deg,#ffc500 0.5px,#ffae00 12.5px,#ff8700 22.5px,#ff4300 34.5px,#ff0300 44.5px,#c80000 58.5px,#a70000 72.5px,#9c0000 90.5px,#a90000 107.5px,#cc0000 120.5px,#f50000 129.5px,#ff0200 131.5px,#ff3000 137.5px,#ffbd00 150.5px,#fffb00 157.5px,#e5ff1a 161.5px,#afff50 171.5px,#97ff68 178.5px)"></i>
<i style="background:linear-gradient(90deg,#ffcb00 0.5px,#ffb200 12.5px,#ff8b00 22.5px,#ff4b00 33.5px,#ff0200 44.5px,#c80000 58.5px,#a60000 72.5px,#9a0000 89.5px,#a60000 106.5px,#c70000 119.5px,#ee0000 128.5px,#ff0100 131.5px,#ff3000 137.5px,#ffc100 150.5px,#ffff00 157.5px,#c8ff37 165.5px,#99ff66 175.5px,#91ff6e 178.5px)"></i>
<i style="background:linear-gradient(90deg,#ffd000 0.5px,#ffb600 12.5px,#ff8f00 22.5px,#ff4e00 33.5px,#ff0200 44.5px,#c70000 58.5px,#a50000 72.5px,#980000 89.5px,#a40000 106.5px,#c20000 118.5px,#ed0000 128.5px,#ff0000 131.5px,#ff2600 136.5px,#ff7600 143.5px,#ffc400 150.5px,#fffb00 156.5px,#ebff14 159.5px,#b2ff4d 168.5px,#8dff72 177.5px,#8aff75 178.5px)"></i>
<i style="background:linear-gradient(90deg,#ffd600 0.5px,#ffbb00 12.5px,#ff9200 22.5px,#ff5000 33.5px,#ff0800 43.5px,#fc0000 45.5px,#ca0000 57.5px,#a40000 72.5px,#970000 89.5px,#a20000 106.5px,#c10000 118.5px,#eb0000 128.5px,#fe0000 131.5px,#ff2500 136.5px,#ff7700 143.5px,#ffbe00 149.5px,#ffff00 156.5px,#c4ff3b 164.5px,#90ff6f 174.5px,#83ff7c 178.5px)"></i>
<i style="background:linear-gradient(90deg,#ffdd00 0.5px,#ffbf00 12.5px,#ff9000 23.5px,#ff5200 33.5px,#ff0800 43.5px,#fc0000 45.5px,#ca0000 57.5px,#a30000 72.5px,#950000 89.5px,#a10000 106.5px,#bf0000 118.5px,#ea0000 128.5px,#fc0000 131.5px,#ff1b00 135.5px,#ff5200 140.5px,#ffb800 148.5px,#fffc00 155.5px,#cbff34 162.5px,#92ff6d 172.5px,#7cff83 178.5px)"></i>
<i style="background:linear-gradient(90deg,#ffe300 0.5px,#ffc200 12.5px,#ff8e00 24.5px,#ff5400 33.5px,#ff0800 43.5px,#f70000 46.5px,#c80000 58.5px,#a30000 72.5px,#940000 88.5px,#9e0000 105.5px,#bb0000 117.5px,#e40000 127.5px,#ff0300 132.5px,#ff2f00 137.5px,#ffbc00 148.5px,#fdff02 155.5px,#b8ff47 164.5px,#82ff7d 174.5px,#74ff8b 178.5px)"></i>
<i style="background:linear-gradient(90deg,#ffeb00 0.5px,#ffc200 13.5px,#ff8500 26.5px,#ff5700 33.5px,#ff0900 43.5px,#f80000 46.5px,#c50000 59.5px,#a00000 73.5px,#920000 89.5px,#9e0000 106.5px,#bd0000 118.5px,#e80000 128.5px,#ff0200 132.5px,#ff2300 136.5px,#ff7100 142.5px,#ffc100 148.5px,#fffe00 154.5px,#b2ff4d 164.5px,#7aff85 174.5px,#6bff94 178.5px)"></i>
<i style="background:linear-gradient(90deg,#fff300 0.5px,#ffc200 14.5px,#ff8300 27.5px,#ff5100 34.5px,#ff0a00 43.5px,#fe0000 45.5px,#cd0000 57.5px,#a10000 72.5px,#910000 88.5px,#9b0000 105.5px,#b90000 117.5px,#e20000 127.5px,#ff0100 132.5px,#ff2300 136.5px,#ff6400 141.5px,#ffc700 148.5px,#fffb00 153.5px,#e8ff17 156.5px,#a4ff5b 165.5px,#6cff93 175.5px,#61ff9e 178.5px)"></i>
<i style="background:linear-gradient(90deg,#fffb00 0.5px,#ffbd00 16.5px,#ff8100 28.5px,#ff4b00 35.5px,#ff0b00 43.5px,#fe0000 45.5px,#cd0000 57.5px,#a10000 72.5px,#900000 88.5px,#9a0000 105.5px,#b40000 116.5px,#e10000 127.5px,#ff0000 132.5px,#ff2200 136.5px,#ff6600 141.5px,#ffcc00 148.5px,#fdff02 153.5px,#b1ff4e 162.5px,#6dff92 173.5px,#57ffa8 178.5px)"></i>
<i style="background:linear-gradient(90deg,#fbff04 0.5px,#fff500 4.5px,#ff9100 26.5px,#ff6900 32.5px,#ff1200 42.5px,#ff0000 45.5px,#ce0000 57.5px,#a00000 72.5px,#8e0000 87.5px,#970000 104.5px,#b00000 115.5px,#db0000 126.5px,#ff0000 132.5px,#ff2200 136.5px,#ff6800 141.5px,#ffc500 147.5px,#fffe00 152.5px,#aaff55 162.5px,#64ff9b 173.5px,#4dffb2 178.5px)"></i>
<i style="background:linear-gradient(90deg,#f1ff0e 0.5px,#fffd00 4.5px,#ff9000 27.5px,#ff6500 33.5px,#ff1300 42.5px,#ff0000 45.5px,#cb0000 58.5px,#9f0000 72.5px,#8d0000 87.5px,#950000 104.5px,#ac0000 114.5px,#da0000 126.5px,#fe0000 132.5px,#ff2200 136.5px,#ff6b00 141.5px,#ffca00 147.5px,#fff900 151.5px,#f0ff0f 153.5px,#a2ff5d 162.5px,#5affa5 173.5px,#42ffbd 178.5px)"></i>
<i style="background:linear-gradient(90deg,#e8ff17 0.5px,#fffd00 6.5px,#ff9700 27.5px,#ff7300 32.5px,#ff1400 42.5px,#ff0100 45.5px,#c80000 59.5px,#9c0000 73.5px,#8b0000 88.5px,#950000 105.5px,#b10000 116.5px,#df0000 127.5px,#fe0000 132.5px,#ff2300 136.5px,#ff5c00 140.5px,#ffce00 147.5px,#ffff00 151.5px,#a9ff56 160.5px,#5bffa4 171.5px,#37ffc8 178.5px)"></i>
<i style="background:linear-gradient(90deg,#ddff22 0.5px,#fffd00 8.5px,#ff9f00 27.5px,#ff7a00 32.5px,#ff1500 42.5px,#ff0100 45.5px,#c10000 61.5px,#9b0000 73.5px,#890000 88.5px,#930000 105.5px,#b00000 116.5px,#de0000 127.5px,#fe0000 132.5px,#ff2300 136.5px,#ff5e00 140.5px,#ffd300 147.5px,#fff900 150.5px,#eeff11 152.5px,#99ff66 161.5px,#4affb5 172.5px,#2bffd4 178.5px)"></i>
<i style="background:linear-gradient(90deg,#d2ff2d 0.5px,#fffe00 10.5px,#ffa800 27.5px,#ff8100 32.5px,#ff1e00 41.5px,#ff0100 45.5px,#af0000 66.5px,#950000 76.5px,#870000 89.5px,#930000 106.5px,#b30000 117.5px,#de0000 127.5px,#fe0000 132.5px,#ff2400 136.5px,#ff6000 140.5px,#ffd700 147.5px,#ffff00 150.5px,#a1ff5e 159.5px,#53ffac 169.5px,#23ffdc 177.5px,#1fffe0 178.5px)"></i>
<i style="background:linear-gradient(90deg,#c6ff39 0.5px,#ffff00 12.5px,#ffb200 27.5px,#ff8900 32.5px,#ff2000 41.5px,#ff0200 45.5px,#a70000 68.5px,#910000 78.5px,#860000 90.5px,#940000 107.5px,#b90000 119.5px,#e40000 128.5px,#fe0000 132.5px,#ff2500 136.5px,#ff6200 140.5px,#ffdd00 147.5px,#fff900 149.5px,#f9ff06 150.5px,#98ff67 159.5px,#48ffb7 169.5px,#17ffe8 177.5px,#13ffec 178.5px)"></i>
<i style="background:linear-gradient(90deg,#baff45 0.5px,#feff01 14.5px,#ffbc00 27.5px,#ff9d00 31.5px,#ff2200 41.5px,#ff0200 45.5px,#9d0000 71.5px,#860000 86.5px,#8c0000 102.5px,#9d0000 111.5px,#ce0000 124.5px,#ff0000 132.5px,#ff2500 136.5px,#ff6400 140.5px,#ffe300 147.5px,#ffff00 149.5px,#a3ff5c 157.5px,#5bffa4 165.5px,#16ffe9 175.5px,#07fff8 178.5px)"></i>
<i style="background:linear-gradient(90deg,#adff52 0.5px,#fffe00 17.5px,#ffc700 27.5px,#ffa700 31.5px,#ff2700 41.5px,#ff0600 45.5px,#fa0000 47.5px,#a10000 70.5px,#880000 84.5px,#890000 98.5px,#980000 109.5px,#ca0000 123.5px,#f80000 131.5px,#ff0100 132.5px,#ff2700 136.5px,#ff6800 140.5px,#ffea00 147.5px,#fff900 148.5px,#eaff15 150.5px,#8fff70 158.5px,#41ffbe 167.5px,#06fff9 176.5px,#00fcff 178.5px)"></i>
<i style="background:linear-gradient(90deg,#a0ff5f 0.5px,#fffd00 20.5px,#ffc500 29.5px,#ff9a00 33.5px,#ff3000 41.5px,#ff0e00 45.5px,#fb0000 48.5px,#a80000 68.5px,#910000 78.5px,#860000 90.5px,#940000 107.5px,#ba0000 119.5px,#e50000 128.5px,#ff0200 132.5px,#ff2900 136.5px,#ff6c00 140.5px,#fff200 147.5px,#fcff03 148.5px,#a5ff5a 155.5px,#57ffa8 163.5px,#0dfff2 173.5px,#01fffe 175.5px,#00f1ff 178.5px)"></i>
<i style="background:linear-gradient(90deg,#91ff6e 0.5px,#d7ff28 15.5px,#fdff02 22.5px,#ffd900 28.5px,#ffb300 32.5px,#ff3d00 41.5px,#ff1800 45.5px,#fe0000 49.5px,#bc0000 63.5px,#9b0000 73.5px,#880000 87.5px,#910000 104.5px,#a50000 113.5px,#d60000 125.5px,#ff0300 132.5px,#ff1f00 135.5px,#ff4b00 138.5px,#fffb00 147.5px,#beff41 152.5px,#67ff98 160.5px,#17ffe8 170.5px,#00fcff 174.5px,#00e7ff 178.5px)"></i>
<i style="background:linear-gradient(90deg,#81ff7e 0.5px,#bcff43 13.5px,#fffe00 25.5px,#ffcc00 31.5px,#ff4100 42.5px,#ff0f00 48.5px,#ff0100 50.5px,#c20000 62.5px,#9f0000 72.5px,#8a0000 87.5px,#920000 104.5px,#a70000 113.5px,#d70000 125.5px,#fd0000 131.5px,#ff1700 134.5px,#ff3d00 137.5px,#ff8b00 141.5px,#fff300 146.5px,#f8ff07 147.5px,#bfff40 151.5px,#66ff99 159.5px,#1affe5 168.5px,#00feff 172.5px,#00ddff 178.5px)"></i>
<i style="background:linear-gradient(90deg,#71ff8e 0.5px,#a4ff5b 12.5px,#e9ff16 24.5px,#ffff00 27.5px,#ffd100 32.5px,#ff5100 42.5px,#ff0b00 50.5px,#fc0000 52.5px,#ce0000 60.5px,#a40000 71.5px,#8c0000 86.5px,#920000 102.5px,#a30000 111.5px,#d40000 124.5px,#ff0000 131.5px,#ff2400 135.5px,#ff5300 138.5px,#fffe00 146.5px,#c0ff3f 150.5px,#6eff91 157.5px,#26ffd9 165.5px,#01fffe 170.5px,#00d3ff 178.5px)"></i>
<i style="background:linear-gradient(90deg,#5effa1 0.5px,#91ff6e 12.5px,#d7ff28 24.5px,#fdff02 29.5px,#ffd700 33.5px,#ff5800 43.5px,#ff0500 52.5px,#f50000 54.5px,#cc0000 61.5px,#a80000 71.5px,#8f0000 86.5px,#950000 102.5px,#a50000 111.5px,#d70000 124.5px,#ff0300 131.5px,#ff2800 135.5px,#ff5800 138.5px,#fff400 145.5px,#f5ff0a 146.5px,#c1ff3e 149.5px,#6cff93 156.5px,#21ffde 164.5px,#03fffc 168.5px,#00c8ff 178.5px)"></i>
<i style="background:linear-gradient(90deg,#4affb5 0.5px,#7dff82 12.5px,#c3ff3c 24.5px,#fcff03 31.5px,#ffdf00 34.5px,#ff6b00 43.5px,#ff0600 53.5px,#fc0000 54.5px,#d50000 60.5px,#af0000 70.5px,#950000 85.5px,#980000 100.5px,#a70000 110.5px,#d60000 123.5px,#ff0000 130.5px,#ff2c00 135.5px,#ff5e00 138.5px,#ffff00 145.5px,#c4ff3b 148.5px,#75ff8a 154.5px,#2dffd2 161.5px,#00fdff 167.5px,#00c5ff 176.5px,#00bdff 178.5px)"></i>
<i style="background:linear-gradient(90deg,#34ffcb 0.5px,#6dff92 13.5px,#b3ff4c 25.5px,#e4ff1b 31.5px,#fbff04 33.5px,#ffea00 35.5px,#ff7600 44.5px,#ff0700 54.5px,#fd0000 55.5px,#dc0000 60.5px,#b70000 70.5px,#9c0000 86.5px,#a30000 103.5px,#b70000 113.5px,#e60000 125.5px,#fe0000 129.5px,#ff2700 134.5px,#ff5200 137.5px,#ffaa00 141.5px,#fff300 144.5px,#f4ff0b 145.5px,#b7ff48 148.5px,#73ff8c 153.5px,#28ffd7 160.5px,#00fdff 165.5px,#00c3ff 174.5px,#00b2ff 178.5px)"></i>
<i style="background:linear-gradient(90deg,#1bffe4 0.5px,#5bffa4 14.5px,#a0ff5f 26.5px,#c9ff36 31.5px,#f8ff07 35.5px,#fff900 36.5px,#ff2b00 52.5px,#ff0000 56.5px,#e50000 60.5px,#c20000 70.5px,#a80000 86.5px,#ae0000 103.5px,#c10000 113.5px,#e90000 124.5px,#ff0000 128.5px,#ff2f00 134.5px,#ff5b00 137.5px,#ff9c00 140.5px,#ffff00 144.5px,#bcff43 147.5px,#8bff74 150.5px,#36ffc9 157.5px,#00feff 163.5px,#00bcff 173.5px,#00a7ff 178.5px)"></i>
<i style="background:linear-gradient(90deg,#02fffd 0.5px,#5cffa3 19.5px,#92ff6d 28.5px,#c1ff3e 33.5px,#fffd00 38.5px,#ff6800 49.5px,#ff1700 55.5px,#ff0300 57.5px,#da0000 66.5px,#ba0000 83.5px,#b70000 95.5px,#c40000 109.5px,#eb0000 122.5px,#fe0000 126.5px,#ff2800 132.5px,#ff4500 135.5px,#ff7a00 138.5px,#fff400 143.5px,#f1ff0e 144.5px,#adff52 147.5px,#7bff84 150.5px,#26ffd9 157.5px,#00feff 161.5px,#00bfff 170.5px,#009eff 177.5px,#009bff 178.5px)"></i>
<i style="background:linear-gradient(90deg,#00e7ff 0.5px,#03fffc 6.5px,#66ff99 26.5px,#8cff73 31.5px,#d2ff2d 37.5px,#fbff04 40.5px,#ffdb00 43.5px,#ff9200 48.5px,#ff3400 54.5px,#ff1200 57.5px,#ff0000 60.5px,#e20000 70.5px,#c80000 87.5px,#d10000 106.5px,#eb0000 118.5px,#ff0300 124.5px,#ff2d00 131.5px,#ff5300 135.5px,#ff8800 138.5px,#ffea00 142.5px,#f9ff06 143.5px,#9aff65 147.5px,#69ff96 150.5px,#14ffeb 157.5px,#00ffff 159.5px,#00c9ff 166.5px,#0099ff 175.5px,#0090ff 178.5px)"></i>
<i style="background:linear-gradient(90deg,#00cdff 0.5px,#03fffc 11.5px,#4dffb2 27.5px,#74ff8b 32.5px,#bbff44 38.5px,#feff01 43.5px,#ffc500 47.5px,#ff4d00 54.5px,#ff2800 57.5px,#ff1100 61.5px,#fd0000 68.5px,#e00000 87.5px,#e80000 106.5px,#ff0200 118.5px,#ff2100 126.5px,#ff5100 133.5px,#ff7400 136.5px,#ffb200 139.5px,#feff01 142.5px,#99ff66 146.5px,#61ff9e 149.5px,#16ffe9 155.5px,#01fffe 157.5px,#00c7ff 164.5px,#0091ff 174.5px,#0084ff 178.5px)"></i>
<i style="background:linear-gradient(90deg,#00b2ff 0.5px,#00ffff 16.5px,#31ffce 28.5px,#58ffa7 33.5px,#acff53 40.5px,#fdff02 46.5px,#ff7400 54.5px,#ff4e00 57.5px,#ff3a00 60.5px,#ff1f00 70.5px,#ff0300 87.5px,#ff0c00 105.5px,#ff2500 118.5px,#ff4300 126.5px,#ff7000 133.5px,#ff8400 135.5px,#ffa500 137.5px,#ffea00 140.5px,#f9ff06 141.5px,#79ff86 146.5px,#42ffbd 149.5px,#08fff7 154.5px,#00fdff 155.5px,#00c3ff 162.5px,#008dff 172.5px,#0079ff 178.5px)"></i>
<i style="background:linear-gradient(90deg,#0097ff 0.5px,#00dfff 15.5px,#00ffff 25.5px,#1effe1 31.5px,#4dffb2 36.5px,#cbff34 46.5px,#fdff02 49.5px,#ff9c00 55.5px,#ff7c00 58.5px,#ff6100 64.5px,#ff3400 85.5px,#ff3500 97.5px,#ff4900 112.5px,#ff6f00 125.5px,#ff9600 132.5px,#ffb000 135.5px,#ffd000 137.5px,#fffc00 139.5px,#d0ff2f 141.5px,#68ff97 145.5px,#2cffd3 148.5px,#08fff7 151.5px,#00fdff 152.5px,#00c4ff 159.5px,#0089ff 170.5px,#006fff 178.5px)"></i>
<i style="background:linear-gradient(90deg,#007eff 0.5px,#00bcff 14.5px,#00e5ff 29.5px,#01fffe 33.5px,#41ffbe 39.5px,#98ff67 46.5px,#f8ff07 52.5px,#fff700 53.5px,#ffc300 57.5px,#ffaa00 61.5px,#ff8900 71.5px,#ff6900 86.5px,#ff6d00 98.5px,#ff8400 113.5px,#ffac00 126.5px,#ffd200 133.5px,#ffe400 135.5px,#fcff03 137.5px,#baff45 140.5px,#3fffc0 145.5px,#08fff7 148.5px,#00fbff 149.5px,#00c8ff 155.5px,#0091ff 165.5px,#0068ff 176.5px,#0064ff 178.5px)"></i>
<i style="background:linear-gradient(90deg,#0067ff 0.5px,#0098ff 15.5px,#00b4ff 29.5px,#00ceff 33.5px,#00f9ff 37.5px,#06fff9 38.5px,#83ff7c 48.5px,#e4ff1b 55.5px,#fffd00 58.5px,#ffda00 65.5px,#ffa800 83.5px,#ffa200 91.5px,#ffb800 110.5px,#ffde00 124.5px,#ffff00 131.5px,#e1ff1e 135.5px,#b2ff4d 138.5px,#1affe5 145.5px,#07fff8 146.5px,#00f5ff 147.5px,#00d3ff 150.5px,#00a6ff 157.5px,#0068ff 172.5px,#0058ff 178.5px)"></i>
<i style="background:linear-gradient(90deg,#0051ff 0.5px,#0073ff 18.5px,#0083ff 29.5px,#0093ff 32.5px,#00bdff 36.5px,#00ffff 41.5px,#a2ff5d 55.5px,#c7ff38 60.5px,#f3ff0c 70.5px,#fffc00 75.5px,#ffe200 86.5px,#ffe400 97.5px,#feff01 115.5px,#daff25 126.5px,#b3ff4c 133.5px,#97ff68 136.5px,#67ff98 139.5px,#07fff8 144.5px,#00f5ff 145.5px,#00caff 148.5px,#00a6ff 153.5px,#0076ff 164.5px,#004dff 177.5px,#004bff 178.5px)"></i>
<i style="background:linear-gradient(90deg,#003eff 0.5px,#005aff 29.5px,#0069ff 32.5px,#0093ff 36.5px,#00edff 43.5px,#02fffd 45.5px,#61ff9e 55.5px,#8dff72 62.5px,#b9ff46 73.5px,#daff25 86.5px,#d8ff27 97.5px,#bfff40 114.5px,#9eff61 125.5px,#72ff8d 133.5px,#59ffa6 136.5px,#21ffde 140.5px,#01fffe 142.5px,#00b9ff 147.5px,#009bff 151.5px,#006fff 161.5px,#0040ff 177.5px,#003fff 178.5px)"></i>
<i style="background:linear-gradient(90deg,#002cff 0.5px,#003cff 29.5px,#004aff 32.5px,#0071ff 36.5px,#00c3ff 43.5px,#00feff 50.5px,#3cffc3 59.5px,#6eff91 71.5px,#96ff69 86.5px,#94ff6b 96.5px,#79ff86 114.5px,#54ffab 126.5px,#2cffd3 134.5px,#00fbff 139.5px,#00a7ff 146.5px,#0089ff 150.5px,#005fff 160.5px,#0032ff 177.5px,#0031ff 178.5px)"></i>
<i style="background:linear-gradient(90deg,#001bff 0.5px,#0029ff 30.5px,#0040ff 34.5px,#0099ff 43.5px,#00e8ff 55.5px,#01fffe 60.5px,#36ffc9 76.5px,#50ffaf 87.5px,#4bffb4 98.5px,#2dffd2 115.5px,#00feff 130.5px,#00e0ff 136.5px,#0083ff 147.5px,#005cff 155.5px,#0031ff 170.5px,#0023ff 178.5px)"></i>
<i style="background:linear-gradient(90deg,#000cff 0.5px,#0016ff 30.5px,#0029ff 34.5px,#0076ff 44.5px,#00b7ff 57.5px,#00e3ff 72.5px,#01fffe 83.5px,#08fff7 90.5px,#00fcff 101.5px,#00d8ff 119.5px,#00afff 134.5px,#0082ff 142.5px,#0057ff 150.5px,#002eff 163.5px,#0014ff 178.5px)"></i>
<i style="background:linear-gradient(90deg,#0000fd 0.5px,#0006ff 30.5px,#0019ff 35.5px,#0051ff 45.5px,#0084ff 59.5px,#00bdff 87.5px,#00b6ff 99.5px,#0090ff 121.5px,#006dff 136.5px,#0032ff 152.5px,#0012ff 167.5px,#0005ff 178.5px)"></i>
<i style="background:linear-gradient(90deg,#0000f2 0.5px,#0000fb 31.5px,#0009ff 35.5px,#0034ff 46.5px,#005cff 62.5px,#0084ff 88.5px,#0078ff 104.5px,#003fff 137.5px,#0012ff 156.5px,#0000fd 171.5px,#0000f8 178.5px)"></i>
</div>

<div class="cbar" style="left:260px;top:36px;height:178px"></div>
<div class="cbar" style="left:562px;top:37.5px;height:178px"></div>
<div class="t" style="left:262.5px;top:24.5px">(K)</div>
<div class="t" style="left:564.5px;top:26px">(K)</div>

<div class="tk" style="left:54px;top:216px;width:2px;height:1px"></div>
<div class="tk" style="left:55px;top:201px;width:1px;height:1px"></div>
<div class="tk" style="left:54px;top:186px;width:2px;height:1px"></div>
<div class="tk" style="left:55px;top:171px;width:1px;height:1px"></div>
<div class="tk" style="left:54px;top:156px;width:2px;height:1px"></div>
<div class="tk" style="left:55px;top:141px;width:1px;height:1px"></div>
<div class="tk" style="left:54px;top:126px;width:2px;height:1px"></div>
<div class="tk" style="left:55px;top:111px;width:1px;height:1px"></div>
<div class="tk" style="left:54px;top:96px;width:2px;height:1px"></div>
<div class="tk" style="left:55px;top:81px;width:1px;height:1px"></div>
<div class="tk" style="left:54px;top:66px;width:2px;height:1px"></div>
<div class="tk" style="left:55px;top:51px;width:1px;height:1px"></div>
<div class="tk" style="left:54px;top:36px;width:2px;height:1px"></div>
<div class="tk" style="left:56px;top:217px;width:1px;height:2px"></div>
<div class="tk" style="left:71px;top:217px;width:1px;height:1px"></div>
<div class="tk" style="left:86px;top:217px;width:1px;height:2px"></div>
<div class="tk" style="left:101px;top:217px;width:1px;height:1px"></div>
<div class="tk" style="left:116px;top:217px;width:1px;height:2px"></div>
<div class="tk" style="left:131px;top:217px;width:1px;height:1px"></div>
<div class="tk" style="left:146px;top:217px;width:1px;height:2px"></div>
<div class="tk" style="left:161px;top:217px;width:1px;height:1px"></div>
<div class="tk" style="left:176px;top:217px;width:1px;height:2px"></div>
<div class="tk" style="left:191px;top:217px;width:1px;height:1px"></div>
<div class="tk" style="left:206px;top:217px;width:1px;height:2px"></div>
<div class="tk" style="left:221px;top:217px;width:1px;height:1px"></div>
<div class="tk" style="left:236px;top:217px;width:1px;height:2px"></div>
<div class="t" style="right:564.0px;top:212.5px">0</div>
<div class="t" style="right:564.0px;top:182.5px">10</div>
<div class="t" style="right:564.0px;top:152.5px">20</div>
<div class="t" style="right:564.0px;top:122.5px">30</div>
<div class="t" style="right:564.0px;top:92.5px">40</div>
<div class="t" style="right:564.0px;top:62.5px">50</div>
<div class="t" style="right:564.0px;top:32.5px">60</div>
<div class="t" style="left:56.5px;top:220.5px;width:20px;margin-left:-10px;text-align:center">0</div>
<div class="t" style="left:86.5px;top:220.5px;width:20px;margin-left:-10px;text-align:center">10</div>
<div class="t" style="left:116.5px;top:220.5px;width:20px;margin-left:-10px;text-align:center">20</div>
<div class="t" style="left:146.5px;top:220.5px;width:20px;margin-left:-10px;text-align:center">30</div>
<div class="t" style="left:176.5px;top:220.5px;width:20px;margin-left:-10px;text-align:center">40</div>
<div class="t" style="left:206.5px;top:220.5px;width:20px;margin-left:-10px;text-align:center">50</div>
<div class="t" style="left:236.5px;top:220.5px;width:20px;margin-left:-10px;text-align:center">60</div>
<div class="t" style="left:246.2px;top:220.5px">x (mm)</div>
<div class="tk" style="left:354px;top:216px;width:2px;height:1px"></div>
<div class="tk" style="left:355px;top:201px;width:1px;height:1px"></div>
<div class="tk" style="left:354px;top:186px;width:2px;height:1px"></div>
<div class="tk" style="left:355px;top:171px;width:1px;height:1px"></div>
<div class="tk" style="left:354px;top:156px;width:2px;height:1px"></div>
<div class="tk" style="left:355px;top:141px;width:1px;height:1px"></div>
<div class="tk" style="left:354px;top:126px;width:2px;height:1px"></div>
<div class="tk" style="left:355px;top:111px;width:1px;height:1px"></div>
<div class="tk" style="left:354px;top:96px;width:2px;height:1px"></div>
<div class="tk" style="left:355px;top:81px;width:1px;height:1px"></div>
<div class="tk" style="left:354px;top:66px;width:2px;height:1px"></div>
<div class="tk" style="left:355px;top:51px;width:1px;height:1px"></div>
<div class="tk" style="left:354px;top:36px;width:2px;height:1px"></div>
<div class="tk" style="left:356px;top:217px;width:1px;height:2px"></div>
<div class="tk" style="left:371px;top:217px;width:1px;height:1px"></div>
<div class="tk" style="left:386px;top:217px;width:1px;height:2px"></div>
<div class="tk" style="left:401px;top:217px;width:1px;height:1px"></div>
<div class="tk" style="left:416px;top:217px;width:1px;height:2px"></div>
<div class="tk" style="left:431px;top:217px;width:1px;height:1px"></div>
<div class="tk" style="left:446px;top:217px;width:1px;height:2px"></div>
<div class="tk" style="left:461px;top:217px;width:1px;height:1px"></div>
<div class="tk" style="left:476px;top:217px;width:1px;height:2px"></div>
<div class="tk" style="left:491px;top:217px;width:1px;height:1px"></div>
<div class="tk" style="left:506px;top:217px;width:1px;height:2px"></div>
<div class="tk" style="left:521px;top:217px;width:1px;height:1px"></div>
<div class="tk" style="left:536px;top:217px;width:1px;height:2px"></div>
<div class="t" style="right:264.0px;top:212.5px">0</div>
<div class="t" style="right:264.0px;top:182.5px">10</div>
<div class="t" style="right:264.0px;top:152.5px">20</div>
<div class="t" style="right:264.0px;top:122.5px">30</div>
<div class="t" style="right:264.0px;top:92.5px">40</div>
<div class="t" style="right:264.0px;top:62.5px">50</div>
<div class="t" style="right:264.0px;top:32.5px">60</div>
<div class="t" style="left:356.5px;top:220.5px;width:20px;margin-left:-10px;text-align:center">0</div>
<div class="t" style="left:386.5px;top:220.5px;width:20px;margin-left:-10px;text-align:center">10</div>
<div class="t" style="left:416.5px;top:220.5px;width:20px;margin-left:-10px;text-align:center">20</div>
<div class="t" style="left:446.5px;top:220.5px;width:20px;margin-left:-10px;text-align:center">30</div>
<div class="t" style="left:476.5px;top:220.5px;width:20px;margin-left:-10px;text-align:center">40</div>
<div class="t" style="left:506.5px;top:220.5px;width:20px;margin-left:-10px;text-align:center">50</div>
<div class="t" style="left:536.5px;top:220.5px;width:20px;margin-left:-10px;text-align:center">60</div>
<div class="t" style="left:546.2px;top:220.5px">x (mm)</div>
<div class="t" style="left:281.5px;top:33.1px">500</div>
<div class="t" style="left:281.5px;top:68.3px">460</div>
<div class="tk" style="left:274px;top:72px;width:2px;height:1px"></div>
<div class="t" style="left:281.5px;top:103.5px">420</div>
<div class="tk" style="left:274px;top:107px;width:2px;height:1px"></div>
<div class="t" style="left:281.5px;top:138.8px">380</div>
<div class="tk" style="left:274px;top:142px;width:2px;height:1px"></div>
<div class="t" style="left:281.5px;top:174.0px">340</div>
<div class="tk" style="left:274px;top:177px;width:2px;height:1px"></div>
<div class="t" style="left:281.5px;top:209.2px">300</div>
<div class="t" style="left:583.5px;top:34.9px">1550</div>
<div class="t" style="left:583.5px;top:70.1px">1300</div>
<div class="tk" style="left:576px;top:74px;width:2px;height:1px"></div>
<div class="t" style="left:583.5px;top:105.2px">1050</div>
<div class="tk" style="left:576px;top:109px;width:2px;height:1px"></div>
<div class="t" style="left:583.5px;top:140.4px">800</div>
<div class="tk" style="left:576px;top:144px;width:2px;height:1px"></div>
<div class="t" style="left:583.5px;top:175.5px">550</div>
<div class="tk" style="left:576px;top:179px;width:2px;height:1px"></div>
<div class="t" style="left:583.5px;top:210.7px">300</div>
</body></html>
